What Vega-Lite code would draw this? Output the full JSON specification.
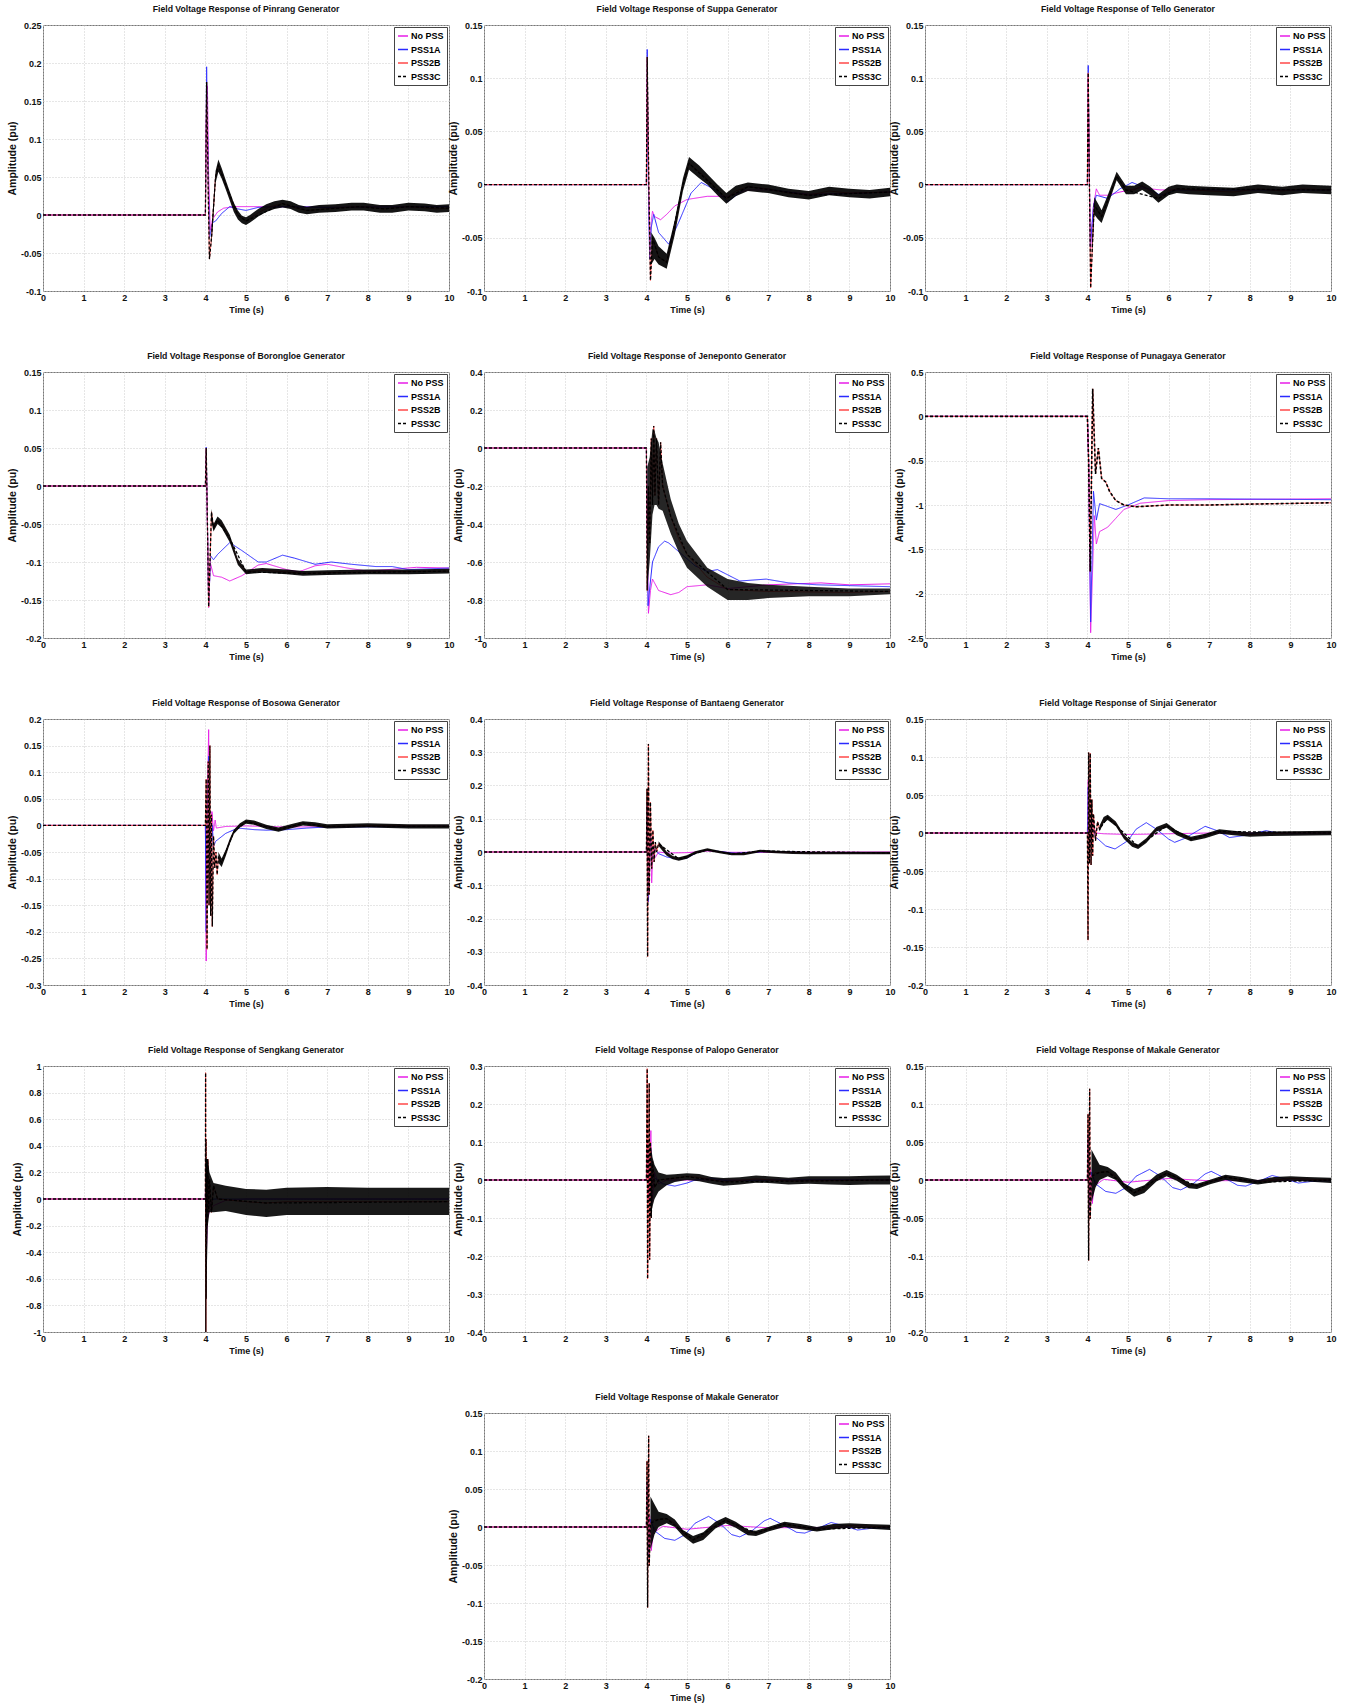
{
"$schema": "https://vega.github.io/schema/vega-lite/v6.json",
"background": "white",
"padding": {"left": 6, "top": 4, "right": 5, "bottom": 2},
"columns": 3,
"spacing": {"row": 81, "column": 35},
"bounds": "flush",
"resolve": {"scale": {"x": "independent", "y": "independent", "color": "independent", "strokeDash": "independent"}, "legend": {"color": "independent", "strokeDash": "independent"}},
"datasets": {
"L": [
{"p":"Pinrang","s":"No PSS","t":0,"v":0},{"p":"Pinrang","s":"No PSS","t":4,"v":0},{"p":"Pinrang","s":"No PSS","t":4.02,"v":0.12},{"p":"Pinrang","s":"No PSS","t":4.05,"v":0.17},{"p":"Pinrang","s":"No PSS","t":4.08,"v":0.05},{"p":"Pinrang","s":"No PSS","t":4.12,"v":-0.02},{"p":"Pinrang","s":"No PSS","t":4.18,"v":-0.005},{"p":"Pinrang","s":"No PSS","t":4.3,"v":0.004},{"p":"Pinrang","s":"No PSS","t":4.45,"v":0.009},{"p":"Pinrang","s":"No PSS","t":4.7,"v":0.011},{"p":"Pinrang","s":"No PSS","t":5,"v":0.011},{"p":"Pinrang","s":"No PSS","t":5.5,"v":0.011},{"p":"Pinrang","s":"No PSS","t":6,"v":0.011},{"p":"Pinrang","s":"No PSS","t":7,"v":0.01},{"p":"Pinrang","s":"No PSS","t":8,"v":0.011},{"p":"Pinrang","s":"No PSS","t":10,"v":0.011},
{"p":"Pinrang","s":"PSS1A","t":0,"v":0},{"p":"Pinrang","s":"PSS1A","t":4,"v":0},{"p":"Pinrang","s":"PSS1A","t":4.03,"v":0.195},{"p":"Pinrang","s":"PSS1A","t":4.06,"v":0.08},{"p":"Pinrang","s":"PSS1A","t":4.1,"v":-0.03},{"p":"Pinrang","s":"PSS1A","t":4.18,"v":-0.01},{"p":"Pinrang","s":"PSS1A","t":4.25,"v":-0.008},{"p":"Pinrang","s":"PSS1A","t":4.4,"v":0.002},{"p":"Pinrang","s":"PSS1A","t":4.6,"v":0.011},{"p":"Pinrang","s":"PSS1A","t":4.8,"v":0.008},{"p":"Pinrang","s":"PSS1A","t":5,"v":0.006},{"p":"Pinrang","s":"PSS1A","t":5.3,"v":0.01},{"p":"Pinrang","s":"PSS1A","t":6,"v":0.011},{"p":"Pinrang","s":"PSS1A","t":7,"v":0.01},{"p":"Pinrang","s":"PSS1A","t":10,"v":0.011},
{"p":"Pinrang","s":"PSS2B","t":0,"v":0},{"p":"Pinrang","s":"PSS2B","t":4,"v":0},{"p":"Pinrang","s":"PSS2B","t":4.03,"v":0.175},{"p":"Pinrang","s":"PSS2B","t":4.07,"v":0.03},{"p":"Pinrang","s":"PSS2B","t":4.1,"v":-0.058},{"p":"Pinrang","s":"PSS2B","t":4.15,"v":-0.03},{"p":"Pinrang","s":"PSS2B","t":4.2,"v":0.01},{"p":"Pinrang","s":"PSS2B","t":4.25,"v":0.05},{"p":"Pinrang","s":"PSS2B","t":4.32,"v":0.065},{"p":"Pinrang","s":"PSS2B","t":4.4,"v":0.055},{"p":"Pinrang","s":"PSS2B","t":4.5,"v":0.04},{"p":"Pinrang","s":"PSS2B","t":4.6,"v":0.025},{"p":"Pinrang","s":"PSS2B","t":4.7,"v":0.01},{"p":"Pinrang","s":"PSS2B","t":4.8,"v":0},{"p":"Pinrang","s":"PSS2B","t":5,"v":-0.008},{"p":"Pinrang","s":"PSS2B","t":5.3,"v":0.003},{"p":"Pinrang","s":"PSS2B","t":5.6,"v":0.011},{"p":"Pinrang","s":"PSS2B","t":5.9,"v":0.015},{"p":"Pinrang","s":"PSS2B","t":6.3,"v":0.008},{"p":"Pinrang","s":"PSS2B","t":6.5,"v":0.006},{"p":"Pinrang","s":"PSS2B","t":7.2,"v":0.009},{"p":"Pinrang","s":"PSS2B","t":7.8,"v":0.011},{"p":"Pinrang","s":"PSS2B","t":8.4,"v":0.008},{"p":"Pinrang","s":"PSS2B","t":9,"v":0.011},{"p":"Pinrang","s":"PSS2B","t":9.7,"v":0.008},{"p":"Pinrang","s":"PSS2B","t":10,"v":0.009},
{"p":"Pinrang","s":"PSS3C","t":0,"v":0},{"p":"Pinrang","s":"PSS3C","t":4,"v":0},{"p":"Pinrang","s":"PSS3C","t":4.03,"v":0.175},{"p":"Pinrang","s":"PSS3C","t":4.07,"v":0.03},{"p":"Pinrang","s":"PSS3C","t":4.1,"v":-0.058},{"p":"Pinrang","s":"PSS3C","t":4.15,"v":-0.03},{"p":"Pinrang","s":"PSS3C","t":4.2,"v":0.01},{"p":"Pinrang","s":"PSS3C","t":4.25,"v":0.05},{"p":"Pinrang","s":"PSS3C","t":4.32,"v":0.065},{"p":"Pinrang","s":"PSS3C","t":4.5,"v":0.04},{"p":"Pinrang","s":"PSS3C","t":4.8,"v":0},{"p":"Pinrang","s":"PSS3C","t":5,"v":-0.008},{"p":"Pinrang","s":"PSS3C","t":5.9,"v":0.015},{"p":"Pinrang","s":"PSS3C","t":6.5,"v":0.006},{"p":"Pinrang","s":"PSS3C","t":7.8,"v":0.011},{"p":"Pinrang","s":"PSS3C","t":8.4,"v":0.008},{"p":"Pinrang","s":"PSS3C","t":9,"v":0.011},{"p":"Pinrang","s":"PSS3C","t":10,"v":0.009},

{"p":"Suppa","s":"No PSS","t":0,"v":0},{"p":"Suppa","s":"No PSS","t":4,"v":0},{"p":"Suppa","s":"No PSS","t":4.02,"v":0.1},{"p":"Suppa","s":"No PSS","t":4.05,"v":0},{"p":"Suppa","s":"No PSS","t":4.08,"v":-0.06},{"p":"Suppa","s":"No PSS","t":4.12,"v":-0.035},{"p":"Suppa","s":"No PSS","t":4.15,"v":-0.025},{"p":"Suppa","s":"No PSS","t":4.2,"v":-0.03},{"p":"Suppa","s":"No PSS","t":4.35,"v":-0.033},{"p":"Suppa","s":"No PSS","t":4.5,"v":-0.028},{"p":"Suppa","s":"No PSS","t":4.7,"v":-0.02},{"p":"Suppa","s":"No PSS","t":5,"v":-0.014},{"p":"Suppa","s":"No PSS","t":5.5,"v":-0.011},{"p":"Suppa","s":"No PSS","t":6,"v":-0.011},{"p":"Suppa","s":"No PSS","t":6.5,"v":-0.005},{"p":"Suppa","s":"No PSS","t":7,"v":-0.005},{"p":"Suppa","s":"No PSS","t":8,"v":-0.009},{"p":"Suppa","s":"No PSS","t":10,"v":-0.007},
{"p":"Suppa","s":"PSS1A","t":0,"v":0},{"p":"Suppa","s":"PSS1A","t":4,"v":0},{"p":"Suppa","s":"PSS1A","t":4.02,"v":0.127},{"p":"Suppa","s":"PSS1A","t":4.05,"v":0},{"p":"Suppa","s":"PSS1A","t":4.08,"v":-0.07},{"p":"Suppa","s":"PSS1A","t":4.12,"v":-0.04},{"p":"Suppa","s":"PSS1A","t":4.18,"v":-0.028},{"p":"Suppa","s":"PSS1A","t":4.3,"v":-0.045},{"p":"Suppa","s":"PSS1A","t":4.55,"v":-0.056},{"p":"Suppa","s":"PSS1A","t":4.8,"v":-0.035},{"p":"Suppa","s":"PSS1A","t":5.1,"v":-0.008},{"p":"Suppa","s":"PSS1A","t":5.35,"v":0.002},{"p":"Suppa","s":"PSS1A","t":5.7,"v":-0.005},{"p":"Suppa","s":"PSS1A","t":6,"v":-0.016},{"p":"Suppa","s":"PSS1A","t":6.5,"v":-0.002},{"p":"Suppa","s":"PSS1A","t":7,"v":-0.004},{"p":"Suppa","s":"PSS1A","t":8,"v":-0.01},{"p":"Suppa","s":"PSS1A","t":10,"v":-0.007},
{"p":"Suppa","s":"PSS2B","t":0,"v":0},{"p":"Suppa","s":"PSS2B","t":4,"v":0},{"p":"Suppa","s":"PSS2B","t":4.02,"v":0.12},{"p":"Suppa","s":"PSS2B","t":4.06,"v":0},{"p":"Suppa","s":"PSS2B","t":4.1,"v":-0.09},{"p":"Suppa","s":"PSS2B","t":4.15,"v":-0.05},{"p":"Suppa","s":"PSS2B","t":4.3,"v":-0.068},{"p":"Suppa","s":"PSS2B","t":4.5,"v":-0.073},{"p":"Suppa","s":"PSS2B","t":4.7,"v":-0.04},{"p":"Suppa","s":"PSS2B","t":4.9,"v":0},{"p":"Suppa","s":"PSS2B","t":5.05,"v":0.02},{"p":"Suppa","s":"PSS2B","t":5.3,"v":0.012},{"p":"Suppa","s":"PSS2B","t":5.5,"v":0.005},{"p":"Suppa","s":"PSS2B","t":5.75,"v":-0.005},{"p":"Suppa","s":"PSS2B","t":5.97,"v":-0.013},{"p":"Suppa","s":"PSS2B","t":6.2,"v":-0.006},{"p":"Suppa","s":"PSS2B","t":6.5,"v":-0.002},{"p":"Suppa","s":"PSS2B","t":7,"v":-0.004},{"p":"Suppa","s":"PSS2B","t":7.5,"v":-0.008},{"p":"Suppa","s":"PSS2B","t":8,"v":-0.01},{"p":"Suppa","s":"PSS2B","t":8.5,"v":-0.006},{"p":"Suppa","s":"PSS2B","t":9,"v":-0.008},{"p":"Suppa","s":"PSS2B","t":10,"v":-0.007},
{"p":"Suppa","s":"PSS3C","t":0,"v":0},{"p":"Suppa","s":"PSS3C","t":4,"v":0},{"p":"Suppa","s":"PSS3C","t":4.02,"v":0.12},{"p":"Suppa","s":"PSS3C","t":4.06,"v":0},{"p":"Suppa","s":"PSS3C","t":4.1,"v":-0.09},{"p":"Suppa","s":"PSS3C","t":4.15,"v":-0.05},{"p":"Suppa","s":"PSS3C","t":4.3,"v":-0.068},{"p":"Suppa","s":"PSS3C","t":4.5,"v":-0.073},{"p":"Suppa","s":"PSS3C","t":4.9,"v":0},{"p":"Suppa","s":"PSS3C","t":5.05,"v":0.02},{"p":"Suppa","s":"PSS3C","t":5.97,"v":-0.013},{"p":"Suppa","s":"PSS3C","t":6.5,"v":-0.002},{"p":"Suppa","s":"PSS3C","t":8,"v":-0.01},{"p":"Suppa","s":"PSS3C","t":10,"v":-0.007},

{"p":"Tello","s":"No PSS","t":0,"v":0},{"p":"Tello","s":"No PSS","t":4,"v":0},{"p":"Tello","s":"No PSS","t":4.02,"v":0.1},{"p":"Tello","s":"No PSS","t":4.05,"v":0},{"p":"Tello","s":"No PSS","t":4.08,"v":-0.06},{"p":"Tello","s":"No PSS","t":4.15,"v":-0.02},{"p":"Tello","s":"No PSS","t":4.22,"v":-0.004},{"p":"Tello","s":"No PSS","t":4.3,"v":-0.01},{"p":"Tello","s":"No PSS","t":4.5,"v":-0.01},{"p":"Tello","s":"No PSS","t":4.8,"v":-0.007},{"p":"Tello","s":"No PSS","t":5.3,"v":-0.003},{"p":"Tello","s":"No PSS","t":5.8,"v":-0.005},{"p":"Tello","s":"No PSS","t":10,"v":-0.005},
{"p":"Tello","s":"PSS1A","t":0,"v":0},{"p":"Tello","s":"PSS1A","t":4,"v":0},{"p":"Tello","s":"PSS1A","t":4.02,"v":0.112},{"p":"Tello","s":"PSS1A","t":4.05,"v":0},{"p":"Tello","s":"PSS1A","t":4.07,"v":-0.058},{"p":"Tello","s":"PSS1A","t":4.15,"v":-0.02},{"p":"Tello","s":"PSS1A","t":4.22,"v":-0.01},{"p":"Tello","s":"PSS1A","t":4.5,"v":-0.013},{"p":"Tello","s":"PSS1A","t":4.8,"v":-0.004},{"p":"Tello","s":"PSS1A","t":5.1,"v":0.002},{"p":"Tello","s":"PSS1A","t":5.5,"v":-0.004},{"p":"Tello","s":"PSS1A","t":5.8,"v":-0.01},{"p":"Tello","s":"PSS1A","t":6.2,"v":-0.005},{"p":"Tello","s":"PSS1A","t":10,"v":-0.005},
{"p":"Tello","s":"PSS2B","t":0,"v":0},{"p":"Tello","s":"PSS2B","t":4,"v":0},{"p":"Tello","s":"PSS2B","t":4.02,"v":0.105},{"p":"Tello","s":"PSS2B","t":4.05,"v":0},{"p":"Tello","s":"PSS2B","t":4.08,"v":-0.097},{"p":"Tello","s":"PSS2B","t":4.12,"v":-0.06},{"p":"Tello","s":"PSS2B","t":4.17,"v":-0.019},{"p":"Tello","s":"PSS2B","t":4.25,"v":-0.025},{"p":"Tello","s":"PSS2B","t":4.35,"v":-0.03},{"p":"Tello","s":"PSS2B","t":4.5,"v":-0.015},{"p":"Tello","s":"PSS2B","t":4.72,"v":0.008},{"p":"Tello","s":"PSS2B","t":4.95,"v":-0.005},{"p":"Tello","s":"PSS2B","t":5.15,"v":-0.005},{"p":"Tello","s":"PSS2B","t":5.35,"v":-0.001},{"p":"Tello","s":"PSS2B","t":5.55,"v":-0.006},{"p":"Tello","s":"PSS2B","t":5.75,"v":-0.013},{"p":"Tello","s":"PSS2B","t":6,"v":-0.006},{"p":"Tello","s":"PSS2B","t":6.2,"v":-0.004},{"p":"Tello","s":"PSS2B","t":7,"v":-0.006},{"p":"Tello","s":"PSS2B","t":7.6,"v":-0.007},{"p":"Tello","s":"PSS2B","t":8.2,"v":-0.004},{"p":"Tello","s":"PSS2B","t":8.8,"v":-0.006},{"p":"Tello","s":"PSS2B","t":9.3,"v":-0.004},{"p":"Tello","s":"PSS2B","t":10,"v":-0.005},
{"p":"Tello","s":"PSS3C","t":0,"v":0},{"p":"Tello","s":"PSS3C","t":4,"v":0},{"p":"Tello","s":"PSS3C","t":4.02,"v":0.105},{"p":"Tello","s":"PSS3C","t":4.05,"v":0},{"p":"Tello","s":"PSS3C","t":4.08,"v":-0.097},{"p":"Tello","s":"PSS3C","t":4.12,"v":-0.06},{"p":"Tello","s":"PSS3C","t":4.17,"v":-0.019},{"p":"Tello","s":"PSS3C","t":4.35,"v":-0.03},{"p":"Tello","s":"PSS3C","t":4.72,"v":0.008},{"p":"Tello","s":"PSS3C","t":4.95,"v":-0.005},{"p":"Tello","s":"PSS3C","t":5.75,"v":-0.013},{"p":"Tello","s":"PSS3C","t":6.2,"v":-0.004},{"p":"Tello","s":"PSS3C","t":10,"v":-0.005},

{"p":"Borongloe","s":"No PSS","t":0,"v":0},{"p":"Borongloe","s":"No PSS","t":4,"v":0},{"p":"Borongloe","s":"No PSS","t":4.02,"v":0.04},{"p":"Borongloe","s":"No PSS","t":4.05,"v":-0.05},{"p":"Borongloe","s":"No PSS","t":4.08,"v":-0.16},{"p":"Borongloe","s":"No PSS","t":4.12,"v":-0.101},{"p":"Borongloe","s":"No PSS","t":4.2,"v":-0.118},{"p":"Borongloe","s":"No PSS","t":4.4,"v":-0.12},{"p":"Borongloe","s":"No PSS","t":4.6,"v":-0.125},{"p":"Borongloe","s":"No PSS","t":4.9,"v":-0.118},{"p":"Borongloe","s":"No PSS","t":5.3,"v":-0.104},{"p":"Borongloe","s":"No PSS","t":5.5,"v":-0.102},{"p":"Borongloe","s":"No PSS","t":6,"v":-0.11},{"p":"Borongloe","s":"No PSS","t":6.3,"v":-0.113},{"p":"Borongloe","s":"No PSS","t":6.7,"v":-0.105},{"p":"Borongloe","s":"No PSS","t":7,"v":-0.103},{"p":"Borongloe","s":"No PSS","t":7.5,"v":-0.108},{"p":"Borongloe","s":"No PSS","t":8,"v":-0.112},{"p":"Borongloe","s":"No PSS","t":8.5,"v":-0.11},{"p":"Borongloe","s":"No PSS","t":9.2,"v":-0.107},{"p":"Borongloe","s":"No PSS","t":10,"v":-0.108},
{"p":"Borongloe","s":"PSS1A","t":0,"v":0},{"p":"Borongloe","s":"PSS1A","t":4,"v":0},{"p":"Borongloe","s":"PSS1A","t":4.02,"v":0.051},{"p":"Borongloe","s":"PSS1A","t":4.05,"v":-0.05},{"p":"Borongloe","s":"PSS1A","t":4.08,"v":-0.155},{"p":"Borongloe","s":"PSS1A","t":4.13,"v":-0.092},{"p":"Borongloe","s":"PSS1A","t":4.2,"v":-0.097},{"p":"Borongloe","s":"PSS1A","t":4.3,"v":-0.09},{"p":"Borongloe","s":"PSS1A","t":4.6,"v":-0.0745},{"p":"Borongloe","s":"PSS1A","t":4.9,"v":-0.085},{"p":"Borongloe","s":"PSS1A","t":5.3,"v":-0.1},{"p":"Borongloe","s":"PSS1A","t":5.5,"v":-0.1},{"p":"Borongloe","s":"PSS1A","t":5.9,"v":-0.091},{"p":"Borongloe","s":"PSS1A","t":6.2,"v":-0.095},{"p":"Borongloe","s":"PSS1A","t":6.7,"v":-0.103},{"p":"Borongloe","s":"PSS1A","t":7.1,"v":-0.1},{"p":"Borongloe","s":"PSS1A","t":7.6,"v":-0.103},{"p":"Borongloe","s":"PSS1A","t":8.2,"v":-0.106},{"p":"Borongloe","s":"PSS1A","t":8.6,"v":-0.106},{"p":"Borongloe","s":"PSS1A","t":9,"v":-0.11},{"p":"Borongloe","s":"PSS1A","t":10,"v":-0.108},
{"p":"Borongloe","s":"PSS2B","t":0,"v":0},{"p":"Borongloe","s":"PSS2B","t":4,"v":0},{"p":"Borongloe","s":"PSS2B","t":4.02,"v":0.05},{"p":"Borongloe","s":"PSS2B","t":4.05,"v":-0.05},{"p":"Borongloe","s":"PSS2B","t":4.08,"v":-0.159},{"p":"Borongloe","s":"PSS2B","t":4.15,"v":-0.034},{"p":"Borongloe","s":"PSS2B","t":4.2,"v":-0.055},{"p":"Borongloe","s":"PSS2B","t":4.3,"v":-0.045},{"p":"Borongloe","s":"PSS2B","t":4.4,"v":-0.05},{"p":"Borongloe","s":"PSS2B","t":4.6,"v":-0.069},{"p":"Borongloe","s":"PSS2B","t":4.8,"v":-0.1},{"p":"Borongloe","s":"PSS2B","t":5,"v":-0.113},{"p":"Borongloe","s":"PSS2B","t":5.4,"v":-0.111},{"p":"Borongloe","s":"PSS2B","t":6,"v":-0.113},{"p":"Borongloe","s":"PSS2B","t":6.4,"v":-0.115},{"p":"Borongloe","s":"PSS2B","t":7,"v":-0.114},{"p":"Borongloe","s":"PSS2B","t":8,"v":-0.113},{"p":"Borongloe","s":"PSS2B","t":10,"v":-0.112},
{"p":"Borongloe","s":"PSS3C","t":0,"v":0},{"p":"Borongloe","s":"PSS3C","t":4,"v":0},{"p":"Borongloe","s":"PSS3C","t":4.02,"v":0.05},{"p":"Borongloe","s":"PSS3C","t":4.05,"v":-0.05},{"p":"Borongloe","s":"PSS3C","t":4.08,"v":-0.159},{"p":"Borongloe","s":"PSS3C","t":4.15,"v":-0.034},{"p":"Borongloe","s":"PSS3C","t":4.2,"v":-0.055},{"p":"Borongloe","s":"PSS3C","t":4.3,"v":-0.045},{"p":"Borongloe","s":"PSS3C","t":4.6,"v":-0.069},{"p":"Borongloe","s":"PSS3C","t":5,"v":-0.113},{"p":"Borongloe","s":"PSS3C","t":6.4,"v":-0.115},{"p":"Borongloe","s":"PSS3C","t":10,"v":-0.112},

{"p":"Jeneponto","s":"No PSS","t":0,"v":0},{"p":"Jeneponto","s":"No PSS","t":4,"v":0},{"p":"Jeneponto","s":"No PSS","t":4.02,"v":-0.4},{"p":"Jeneponto","s":"No PSS","t":4.05,"v":-0.87},{"p":"Jeneponto","s":"No PSS","t":4.1,"v":-0.75},{"p":"Jeneponto","s":"No PSS","t":4.15,"v":-0.69},{"p":"Jeneponto","s":"No PSS","t":4.3,"v":-0.75},{"p":"Jeneponto","s":"No PSS","t":4.6,"v":-0.772},{"p":"Jeneponto","s":"No PSS","t":4.8,"v":-0.76},{"p":"Jeneponto","s":"No PSS","t":5,"v":-0.73},{"p":"Jeneponto","s":"No PSS","t":5.5,"v":-0.72},{"p":"Jeneponto","s":"No PSS","t":6,"v":-0.74},{"p":"Jeneponto","s":"No PSS","t":7,"v":-0.72},{"p":"Jeneponto","s":"No PSS","t":8.3,"v":-0.71},{"p":"Jeneponto","s":"No PSS","t":9,"v":-0.72},{"p":"Jeneponto","s":"No PSS","t":10,"v":-0.715},
{"p":"Jeneponto","s":"PSS1A","t":0,"v":0},{"p":"Jeneponto","s":"PSS1A","t":4,"v":0},{"p":"Jeneponto","s":"PSS1A","t":4.02,"v":-0.5},{"p":"Jeneponto","s":"PSS1A","t":4.04,"v":-0.83},{"p":"Jeneponto","s":"PSS1A","t":4.1,"v":-0.7},{"p":"Jeneponto","s":"PSS1A","t":4.15,"v":-0.6},{"p":"Jeneponto","s":"PSS1A","t":4.3,"v":-0.52},{"p":"Jeneponto","s":"PSS1A","t":4.45,"v":-0.49},{"p":"Jeneponto","s":"PSS1A","t":4.55,"v":-0.5},{"p":"Jeneponto","s":"PSS1A","t":5.2,"v":-0.62},{"p":"Jeneponto","s":"PSS1A","t":5.5,"v":-0.65},{"p":"Jeneponto","s":"PSS1A","t":5.75,"v":-0.64},{"p":"Jeneponto","s":"PSS1A","t":6.3,"v":-0.7},{"p":"Jeneponto","s":"PSS1A","t":6.95,"v":-0.69},{"p":"Jeneponto","s":"PSS1A","t":7.5,"v":-0.71},{"p":"Jeneponto","s":"PSS1A","t":8.2,"v":-0.72},{"p":"Jeneponto","s":"PSS1A","t":10,"v":-0.73},
{"p":"Jeneponto","s":"PSS2B","t":0,"v":0},{"p":"Jeneponto","s":"PSS2B","t":4,"v":0},{"p":"Jeneponto","s":"PSS2B","t":4.02,"v":-0.75},{"p":"Jeneponto","s":"PSS2B","t":4.05,"v":-0.2},{"p":"Jeneponto","s":"PSS2B","t":4.08,"v":-0.5},{"p":"Jeneponto","s":"PSS2B","t":4.12,"v":0.05},{"p":"Jeneponto","s":"PSS2B","t":4.15,"v":-0.3},{"p":"Jeneponto","s":"PSS2B","t":4.18,"v":0.116},{"p":"Jeneponto","s":"PSS2B","t":4.21,"v":-0.25},{"p":"Jeneponto","s":"PSS2B","t":4.25,"v":0.05},{"p":"Jeneponto","s":"PSS2B","t":4.3,"v":-0.3},{"p":"Jeneponto","s":"PSS2B","t":4.35,"v":0.03},{"p":"Jeneponto","s":"PSS2B","t":4.4,"v":-0.2},{"p":"Jeneponto","s":"PSS2B","t":4.6,"v":-0.36},{"p":"Jeneponto","s":"PSS2B","t":4.8,"v":-0.48},{"p":"Jeneponto","s":"PSS2B","t":5,"v":-0.56},{"p":"Jeneponto","s":"PSS2B","t":5.5,"v":-0.68},{"p":"Jeneponto","s":"PSS2B","t":6,"v":-0.745},{"p":"Jeneponto","s":"PSS2B","t":7,"v":-0.755},{"p":"Jeneponto","s":"PSS2B","t":9,"v":-0.76},{"p":"Jeneponto","s":"PSS2B","t":10,"v":-0.755},
{"p":"Jeneponto","s":"PSS3C","t":0,"v":0},{"p":"Jeneponto","s":"PSS3C","t":4,"v":0},{"p":"Jeneponto","s":"PSS3C","t":4.02,"v":-0.75},{"p":"Jeneponto","s":"PSS3C","t":4.05,"v":-0.2},{"p":"Jeneponto","s":"PSS3C","t":4.08,"v":-0.5},{"p":"Jeneponto","s":"PSS3C","t":4.12,"v":0.05},{"p":"Jeneponto","s":"PSS3C","t":4.15,"v":-0.3},{"p":"Jeneponto","s":"PSS3C","t":4.18,"v":0.116},{"p":"Jeneponto","s":"PSS3C","t":4.21,"v":-0.25},{"p":"Jeneponto","s":"PSS3C","t":4.25,"v":0.05},{"p":"Jeneponto","s":"PSS3C","t":4.3,"v":-0.3},{"p":"Jeneponto","s":"PSS3C","t":4.35,"v":0.03},{"p":"Jeneponto","s":"PSS3C","t":4.4,"v":-0.2},{"p":"Jeneponto","s":"PSS3C","t":4.6,"v":-0.36},{"p":"Jeneponto","s":"PSS3C","t":5,"v":-0.56},{"p":"Jeneponto","s":"PSS3C","t":6,"v":-0.745},{"p":"Jeneponto","s":"PSS3C","t":10,"v":-0.755},

{"p":"Punagaya","s":"No PSS","t":0,"v":0},{"p":"Punagaya","s":"No PSS","t":4,"v":0},{"p":"Punagaya","s":"No PSS","t":4.03,"v":-0.5},{"p":"Punagaya","s":"No PSS","t":4.08,"v":-2.44},{"p":"Punagaya","s":"No PSS","t":4.17,"v":-1.12},{"p":"Punagaya","s":"No PSS","t":4.22,"v":-1.44},{"p":"Punagaya","s":"No PSS","t":4.3,"v":-1.3},{"p":"Punagaya","s":"No PSS","t":4.5,"v":-1.25},{"p":"Punagaya","s":"No PSS","t":4.7,"v":-1.15},{"p":"Punagaya","s":"No PSS","t":4.9,"v":-1.05},{"p":"Punagaya","s":"No PSS","t":5.3,"v":-0.98},{"p":"Punagaya","s":"No PSS","t":6,"v":-0.95},{"p":"Punagaya","s":"No PSS","t":7,"v":-0.94},{"p":"Punagaya","s":"No PSS","t":10,"v":-0.93},
{"p":"Punagaya","s":"PSS1A","t":0,"v":0},{"p":"Punagaya","s":"PSS1A","t":4,"v":0},{"p":"Punagaya","s":"PSS1A","t":4.03,"v":-0.5},{"p":"Punagaya","s":"PSS1A","t":4.08,"v":-2.32},{"p":"Punagaya","s":"PSS1A","t":4.15,"v":-0.845},{"p":"Punagaya","s":"PSS1A","t":4.22,"v":-1.17},{"p":"Punagaya","s":"PSS1A","t":4.3,"v":-0.985},{"p":"Punagaya","s":"PSS1A","t":4.4,"v":-1.0},{"p":"Punagaya","s":"PSS1A","t":4.7,"v":-1.05},{"p":"Punagaya","s":"PSS1A","t":5,"v":-1.0},{"p":"Punagaya","s":"PSS1A","t":5.4,"v":-0.92},{"p":"Punagaya","s":"PSS1A","t":6,"v":-0.93},{"p":"Punagaya","s":"PSS1A","t":7,"v":-0.93},{"p":"Punagaya","s":"PSS1A","t":10,"v":-0.94},
{"p":"Punagaya","s":"PSS2B","t":0,"v":0},{"p":"Punagaya","s":"PSS2B","t":4,"v":0},{"p":"Punagaya","s":"PSS2B","t":4.03,"v":-0.5},{"p":"Punagaya","s":"PSS2B","t":4.07,"v":-1.75},{"p":"Punagaya","s":"PSS2B","t":4.13,"v":0.31},{"p":"Punagaya","s":"PSS2B","t":4.2,"v":-0.65},{"p":"Punagaya","s":"PSS2B","t":4.27,"v":-0.357},{"p":"Punagaya","s":"PSS2B","t":4.35,"v":-0.7},{"p":"Punagaya","s":"PSS2B","t":4.45,"v":-0.74},{"p":"Punagaya","s":"PSS2B","t":4.55,"v":-0.85},{"p":"Punagaya","s":"PSS2B","t":4.7,"v":-0.95},{"p":"Punagaya","s":"PSS2B","t":4.9,"v":-1.0},{"p":"Punagaya","s":"PSS2B","t":5.2,"v":-1.02},{"p":"Punagaya","s":"PSS2B","t":6,"v":-1.0},{"p":"Punagaya","s":"PSS2B","t":7,"v":-1.0},{"p":"Punagaya","s":"PSS2B","t":8,"v":-0.99},{"p":"Punagaya","s":"PSS2B","t":10,"v":-0.975},
{"p":"Punagaya","s":"PSS3C","t":0,"v":0},{"p":"Punagaya","s":"PSS3C","t":4,"v":0},{"p":"Punagaya","s":"PSS3C","t":4.03,"v":-0.5},{"p":"Punagaya","s":"PSS3C","t":4.07,"v":-1.75},{"p":"Punagaya","s":"PSS3C","t":4.13,"v":0.31},{"p":"Punagaya","s":"PSS3C","t":4.2,"v":-0.65},{"p":"Punagaya","s":"PSS3C","t":4.27,"v":-0.357},{"p":"Punagaya","s":"PSS3C","t":4.35,"v":-0.7},{"p":"Punagaya","s":"PSS3C","t":4.45,"v":-0.74},{"p":"Punagaya","s":"PSS3C","t":4.55,"v":-0.85},{"p":"Punagaya","s":"PSS3C","t":4.7,"v":-0.95},{"p":"Punagaya","s":"PSS3C","t":4.9,"v":-1.0},{"p":"Punagaya","s":"PSS3C","t":5.2,"v":-1.02},{"p":"Punagaya","s":"PSS3C","t":6,"v":-1.0},{"p":"Punagaya","s":"PSS3C","t":7,"v":-1.0},{"p":"Punagaya","s":"PSS3C","t":8,"v":-0.99},{"p":"Punagaya","s":"PSS3C","t":10,"v":-0.975},

{"p":"Bosowa","s":"No PSS","t":0,"v":0},{"p":"Bosowa","s":"No PSS","t":4,"v":0},{"p":"Bosowa","s":"No PSS","t":4.02,"v":-0.255},{"p":"Bosowa","s":"No PSS","t":4.05,"v":0.05},{"p":"Bosowa","s":"No PSS","t":4.08,"v":0.18},{"p":"Bosowa","s":"No PSS","t":4.12,"v":-0.1},{"p":"Bosowa","s":"No PSS","t":4.16,"v":0.026},{"p":"Bosowa","s":"No PSS","t":4.2,"v":-0.01},{"p":"Bosowa","s":"No PSS","t":4.24,"v":0.01},{"p":"Bosowa","s":"No PSS","t":4.27,"v":-0.005},{"p":"Bosowa","s":"No PSS","t":4.5,"v":-0.002},{"p":"Bosowa","s":"No PSS","t":5,"v":-0.001},{"p":"Bosowa","s":"No PSS","t":6,"v":-0.003},{"p":"Bosowa","s":"No PSS","t":10,"v":-0.001},
{"p":"Bosowa","s":"PSS1A","t":0,"v":0},{"p":"Bosowa","s":"PSS1A","t":4,"v":0},{"p":"Bosowa","s":"PSS1A","t":4.02,"v":-0.2},{"p":"Bosowa","s":"PSS1A","t":4.05,"v":0.05},{"p":"Bosowa","s":"PSS1A","t":4.08,"v":0.13},{"p":"Bosowa","s":"PSS1A","t":4.12,"v":-0.12},{"p":"Bosowa","s":"PSS1A","t":4.17,"v":0},{"p":"Bosowa","s":"PSS1A","t":4.2,"v":-0.04},{"p":"Bosowa","s":"PSS1A","t":4.25,"v":-0.03},{"p":"Bosowa","s":"PSS1A","t":4.3,"v":-0.027},{"p":"Bosowa","s":"PSS1A","t":4.5,"v":-0.015},{"p":"Bosowa","s":"PSS1A","t":4.8,"v":-0.005},{"p":"Bosowa","s":"PSS1A","t":5.2,"v":-0.008},{"p":"Bosowa","s":"PSS1A","t":5.5,"v":-0.009},{"p":"Bosowa","s":"PSS1A","t":6,"v":-0.008},{"p":"Bosowa","s":"PSS1A","t":6.5,"v":-0.005},{"p":"Bosowa","s":"PSS1A","t":7,"v":-0.003},{"p":"Bosowa","s":"PSS1A","t":10,"v":-0.002},
{"p":"Bosowa","s":"PSS2B","t":0,"v":0},{"p":"Bosowa","s":"PSS2B","t":4,"v":0},{"p":"Bosowa","s":"PSS2B","t":4.02,"v":0.087},{"p":"Bosowa","s":"PSS2B","t":4.04,"v":-0.233},{"p":"Bosowa","s":"PSS2B","t":4.07,"v":0.12},{"p":"Bosowa","s":"PSS2B","t":4.09,"v":-0.15},{"p":"Bosowa","s":"PSS2B","t":4.11,"v":0.15},{"p":"Bosowa","s":"PSS2B","t":4.13,"v":-0.17},{"p":"Bosowa","s":"PSS2B","t":4.15,"v":0.02},{"p":"Bosowa","s":"PSS2B","t":4.17,"v":-0.19},{"p":"Bosowa","s":"PSS2B","t":4.2,"v":-0.02},{"p":"Bosowa","s":"PSS2B","t":4.23,"v":-0.08},{"p":"Bosowa","s":"PSS2B","t":4.26,"v":-0.05},{"p":"Bosowa","s":"PSS2B","t":4.29,"v":-0.0925},{"p":"Bosowa","s":"PSS2B","t":4.32,"v":-0.06},{"p":"Bosowa","s":"PSS2B","t":4.4,"v":-0.07},{"p":"Bosowa","s":"PSS2B","t":4.5,"v":-0.052},{"p":"Bosowa","s":"PSS2B","t":4.6,"v":-0.03},{"p":"Bosowa","s":"PSS2B","t":4.7,"v":-0.012},{"p":"Bosowa","s":"PSS2B","t":4.85,"v":0},{"p":"Bosowa","s":"PSS2B","t":5,"v":0.007},{"p":"Bosowa","s":"PSS2B","t":5.2,"v":0.005},{"p":"Bosowa","s":"PSS2B","t":5.5,"v":-0.003},{"p":"Bosowa","s":"PSS2B","t":5.8,"v":-0.008},{"p":"Bosowa","s":"PSS2B","t":6.1,"v":-0.002},{"p":"Bosowa","s":"PSS2B","t":6.4,"v":0.004},{"p":"Bosowa","s":"PSS2B","t":6.7,"v":0.002},{"p":"Bosowa","s":"PSS2B","t":7,"v":-0.002},{"p":"Bosowa","s":"PSS2B","t":8,"v":0},{"p":"Bosowa","s":"PSS2B","t":10,"v":-0.002},
{"p":"Bosowa","s":"PSS3C","t":0,"v":0},{"p":"Bosowa","s":"PSS3C","t":4,"v":0},{"p":"Bosowa","s":"PSS3C","t":4.02,"v":0.087},{"p":"Bosowa","s":"PSS3C","t":4.04,"v":-0.233},{"p":"Bosowa","s":"PSS3C","t":4.07,"v":0.12},{"p":"Bosowa","s":"PSS3C","t":4.09,"v":-0.15},{"p":"Bosowa","s":"PSS3C","t":4.11,"v":0.15},{"p":"Bosowa","s":"PSS3C","t":4.13,"v":-0.17},{"p":"Bosowa","s":"PSS3C","t":4.15,"v":0.02},{"p":"Bosowa","s":"PSS3C","t":4.17,"v":-0.19},{"p":"Bosowa","s":"PSS3C","t":4.2,"v":-0.02},{"p":"Bosowa","s":"PSS3C","t":4.23,"v":-0.08},{"p":"Bosowa","s":"PSS3C","t":4.26,"v":-0.05},{"p":"Bosowa","s":"PSS3C","t":4.29,"v":-0.0925},{"p":"Bosowa","s":"PSS3C","t":4.32,"v":-0.06},{"p":"Bosowa","s":"PSS3C","t":4.4,"v":-0.07},{"p":"Bosowa","s":"PSS3C","t":4.7,"v":-0.012},{"p":"Bosowa","s":"PSS3C","t":5,"v":0.007},{"p":"Bosowa","s":"PSS3C","t":5.8,"v":-0.008},{"p":"Bosowa","s":"PSS3C","t":6.4,"v":0.004},{"p":"Bosowa","s":"PSS3C","t":7,"v":-0.002},{"p":"Bosowa","s":"PSS3C","t":10,"v":-0.002},

{"p":"Bantaeng","s":"No PSS","t":0,"v":0},{"p":"Bantaeng","s":"No PSS","t":4,"v":0},{"p":"Bantaeng","s":"No PSS","t":4.02,"v":0.1},{"p":"Bantaeng","s":"No PSS","t":4.05,"v":-0.1},{"p":"Bantaeng","s":"No PSS","t":4.1,"v":0.05},{"p":"Bantaeng","s":"No PSS","t":4.13,"v":-0.093},{"p":"Bantaeng","s":"No PSS","t":4.17,"v":0.02},{"p":"Bantaeng","s":"No PSS","t":4.2,"v":-0.02},{"p":"Bantaeng","s":"No PSS","t":4.3,"v":0},{"p":"Bantaeng","s":"No PSS","t":4.5,"v":-0.003},{"p":"Bantaeng","s":"No PSS","t":5,"v":-0.002},{"p":"Bantaeng","s":"No PSS","t":5.5,"v":0.003},{"p":"Bantaeng","s":"No PSS","t":6,"v":-0.001},{"p":"Bantaeng","s":"No PSS","t":10,"v":0},
{"p":"Bantaeng","s":"PSS1A","t":0,"v":0},{"p":"Bantaeng","s":"PSS1A","t":4,"v":0},{"p":"Bantaeng","s":"PSS1A","t":4.02,"v":0.15},{"p":"Bantaeng","s":"PSS1A","t":4.05,"v":-0.15},{"p":"Bantaeng","s":"PSS1A","t":4.1,"v":0.05},{"p":"Bantaeng","s":"PSS1A","t":4.15,"v":-0.02},{"p":"Bantaeng","s":"PSS1A","t":4.2,"v":0.01},{"p":"Bantaeng","s":"PSS1A","t":4.3,"v":-0.005},{"p":"Bantaeng","s":"PSS1A","t":4.5,"v":-0.015},{"p":"Bantaeng","s":"PSS1A","t":4.8,"v":-0.022},{"p":"Bantaeng","s":"PSS1A","t":5,"v":-0.018},{"p":"Bantaeng","s":"PSS1A","t":5.3,"v":0.002},{"p":"Bantaeng","s":"PSS1A","t":5.5,"v":0.006},{"p":"Bantaeng","s":"PSS1A","t":5.9,"v":0},{"p":"Bantaeng","s":"PSS1A","t":6.2,"v":-0.004},{"p":"Bantaeng","s":"PSS1A","t":7,"v":0.002},{"p":"Bantaeng","s":"PSS1A","t":8,"v":-0.002},{"p":"Bantaeng","s":"PSS1A","t":10,"v":-0.002},
{"p":"Bantaeng","s":"PSS2B","t":0,"v":0},{"p":"Bantaeng","s":"PSS2B","t":4,"v":0},{"p":"Bantaeng","s":"PSS2B","t":4.015,"v":0.19},{"p":"Bantaeng","s":"PSS2B","t":4.03,"v":-0.315},{"p":"Bantaeng","s":"PSS2B","t":4.05,"v":0.325},{"p":"Bantaeng","s":"PSS2B","t":4.07,"v":-0.128},{"p":"Bantaeng","s":"PSS2B","t":4.1,"v":0.15},{"p":"Bantaeng","s":"PSS2B","t":4.13,"v":-0.05},{"p":"Bantaeng","s":"PSS2B","t":4.16,"v":0.065},{"p":"Bantaeng","s":"PSS2B","t":4.19,"v":-0.03},{"p":"Bantaeng","s":"PSS2B","t":4.22,"v":0.03},{"p":"Bantaeng","s":"PSS2B","t":4.25,"v":0},{"p":"Bantaeng","s":"PSS2B","t":4.3,"v":0.025},{"p":"Bantaeng","s":"PSS2B","t":4.4,"v":0.01},{"p":"Bantaeng","s":"PSS2B","t":4.5,"v":-0.005},{"p":"Bantaeng","s":"PSS2B","t":4.65,"v":-0.017},{"p":"Bantaeng","s":"PSS2B","t":4.8,"v":-0.021},{"p":"Bantaeng","s":"PSS2B","t":5,"v":-0.015},{"p":"Bantaeng","s":"PSS2B","t":5.2,"v":-0.002},{"p":"Bantaeng","s":"PSS2B","t":5.5,"v":0.007},{"p":"Bantaeng","s":"PSS2B","t":5.8,"v":0},{"p":"Bantaeng","s":"PSS2B","t":6.1,"v":-0.006},{"p":"Bantaeng","s":"PSS2B","t":6.4,"v":-0.006},{"p":"Bantaeng","s":"PSS2B","t":6.8,"v":0.003},{"p":"Bantaeng","s":"PSS2B","t":7.2,"v":0},{"p":"Bantaeng","s":"PSS2B","t":8,"v":-0.003},{"p":"Bantaeng","s":"PSS2B","t":10,"v":-0.003},
{"p":"Bantaeng","s":"PSS3C","t":0,"v":0},{"p":"Bantaeng","s":"PSS3C","t":4,"v":0},{"p":"Bantaeng","s":"PSS3C","t":4.015,"v":0.19},{"p":"Bantaeng","s":"PSS3C","t":4.03,"v":-0.315},{"p":"Bantaeng","s":"PSS3C","t":4.05,"v":0.325},{"p":"Bantaeng","s":"PSS3C","t":4.07,"v":-0.128},{"p":"Bantaeng","s":"PSS3C","t":4.1,"v":0.15},{"p":"Bantaeng","s":"PSS3C","t":4.13,"v":-0.05},{"p":"Bantaeng","s":"PSS3C","t":4.16,"v":0.065},{"p":"Bantaeng","s":"PSS3C","t":4.19,"v":-0.03},{"p":"Bantaeng","s":"PSS3C","t":4.22,"v":0.03},{"p":"Bantaeng","s":"PSS3C","t":4.25,"v":0},{"p":"Bantaeng","s":"PSS3C","t":4.3,"v":0.025},{"p":"Bantaeng","s":"PSS3C","t":4.8,"v":-0.021},{"p":"Bantaeng","s":"PSS3C","t":5.5,"v":0.007},{"p":"Bantaeng","s":"PSS3C","t":6.1,"v":-0.006},{"p":"Bantaeng","s":"PSS3C","t":6.8,"v":0.003},{"p":"Bantaeng","s":"PSS3C","t":10,"v":-0.003},

{"p":"Sinjai","s":"No PSS","t":0,"v":0},{"p":"Sinjai","s":"No PSS","t":4,"v":0},{"p":"Sinjai","s":"No PSS","t":4.02,"v":0.07},{"p":"Sinjai","s":"No PSS","t":4.05,"v":-0.02},{"p":"Sinjai","s":"No PSS","t":4.1,"v":0.02},{"p":"Sinjai","s":"No PSS","t":4.2,"v":0},{"p":"Sinjai","s":"No PSS","t":4.4,"v":-0.001},{"p":"Sinjai","s":"No PSS","t":5,"v":-0.002},{"p":"Sinjai","s":"No PSS","t":6,"v":-0.001},{"p":"Sinjai","s":"No PSS","t":7,"v":0},{"p":"Sinjai","s":"No PSS","t":10,"v":0},
{"p":"Sinjai","s":"PSS1A","t":0,"v":0},{"p":"Sinjai","s":"PSS1A","t":4,"v":0},{"p":"Sinjai","s":"PSS1A","t":4.02,"v":0.06},{"p":"Sinjai","s":"PSS1A","t":4.05,"v":-0.02},{"p":"Sinjai","s":"PSS1A","t":4.1,"v":0.01},{"p":"Sinjai","s":"PSS1A","t":4.2,"v":-0.005},{"p":"Sinjai","s":"PSS1A","t":4.45,"v":-0.017},{"p":"Sinjai","s":"PSS1A","t":4.68,"v":-0.021},{"p":"Sinjai","s":"PSS1A","t":5,"v":-0.01},{"p":"Sinjai","s":"PSS1A","t":5.2,"v":0.005},{"p":"Sinjai","s":"PSS1A","t":5.45,"v":0.0136},{"p":"Sinjai","s":"PSS1A","t":5.7,"v":0.005},{"p":"Sinjai","s":"PSS1A","t":6,"v":-0.008},{"p":"Sinjai","s":"PSS1A","t":6.15,"v":-0.0123},{"p":"Sinjai","s":"PSS1A","t":6.4,"v":-0.007},{"p":"Sinjai","s":"PSS1A","t":6.9,"v":0.0088},{"p":"Sinjai","s":"PSS1A","t":7.2,"v":0.003},{"p":"Sinjai","s":"PSS1A","t":7.5,"v":-0.006},{"p":"Sinjai","s":"PSS1A","t":7.9,"v":-0.003},{"p":"Sinjai","s":"PSS1A","t":8.4,"v":0.003},{"p":"Sinjai","s":"PSS1A","t":8.7,"v":0},{"p":"Sinjai","s":"PSS1A","t":9,"v":-0.001},{"p":"Sinjai","s":"PSS1A","t":10,"v":0},
{"p":"Sinjai","s":"PSS2B","t":0,"v":0},{"p":"Sinjai","s":"PSS2B","t":4,"v":0},{"p":"Sinjai","s":"PSS2B","t":4.015,"v":-0.141},{"p":"Sinjai","s":"PSS2B","t":4.03,"v":0.106},{"p":"Sinjai","s":"PSS2B","t":4.05,"v":-0.04},{"p":"Sinjai","s":"PSS2B","t":4.07,"v":0.105},{"p":"Sinjai","s":"PSS2B","t":4.09,"v":-0.042},{"p":"Sinjai","s":"PSS2B","t":4.11,"v":0.044},{"p":"Sinjai","s":"PSS2B","t":4.13,"v":-0.03},{"p":"Sinjai","s":"PSS2B","t":4.15,"v":0.025},{"p":"Sinjai","s":"PSS2B","t":4.2,"v":-0.01},{"p":"Sinjai","s":"PSS2B","t":4.25,"v":0.015},{"p":"Sinjai","s":"PSS2B","t":4.3,"v":0.005},{"p":"Sinjai","s":"PSS2B","t":4.4,"v":0.017},{"p":"Sinjai","s":"PSS2B","t":4.5,"v":0.0206},{"p":"Sinjai","s":"PSS2B","t":4.7,"v":0.012},{"p":"Sinjai","s":"PSS2B","t":4.9,"v":-0.005},{"p":"Sinjai","s":"PSS2B","t":5.1,"v":-0.015},{"p":"Sinjai","s":"PSS2B","t":5.25,"v":-0.018},{"p":"Sinjai","s":"PSS2B","t":5.45,"v":-0.01},{"p":"Sinjai","s":"PSS2B","t":5.7,"v":0.005},{"p":"Sinjai","s":"PSS2B","t":5.95,"v":0.0096},{"p":"Sinjai","s":"PSS2B","t":6.2,"v":0},{"p":"Sinjai","s":"PSS2B","t":6.55,"v":-0.008},{"p":"Sinjai","s":"PSS2B","t":6.9,"v":-0.004},{"p":"Sinjai","s":"PSS2B","t":7.25,"v":0.002},{"p":"Sinjai","s":"PSS2B","t":7.6,"v":0},{"p":"Sinjai","s":"PSS2B","t":8,"v":-0.002},{"p":"Sinjai","s":"PSS2B","t":9,"v":0},{"p":"Sinjai","s":"PSS2B","t":10,"v":0},
{"p":"Sinjai","s":"PSS3C","t":0,"v":0},{"p":"Sinjai","s":"PSS3C","t":4,"v":0},{"p":"Sinjai","s":"PSS3C","t":4.015,"v":-0.141},{"p":"Sinjai","s":"PSS3C","t":4.03,"v":0.106},{"p":"Sinjai","s":"PSS3C","t":4.05,"v":-0.04},{"p":"Sinjai","s":"PSS3C","t":4.07,"v":0.105},{"p":"Sinjai","s":"PSS3C","t":4.09,"v":-0.042},{"p":"Sinjai","s":"PSS3C","t":4.11,"v":0.044},{"p":"Sinjai","s":"PSS3C","t":4.13,"v":-0.03},{"p":"Sinjai","s":"PSS3C","t":4.15,"v":0.025},{"p":"Sinjai","s":"PSS3C","t":4.2,"v":-0.01},{"p":"Sinjai","s":"PSS3C","t":4.25,"v":0.015},{"p":"Sinjai","s":"PSS3C","t":4.3,"v":0.005},{"p":"Sinjai","s":"PSS3C","t":4.5,"v":0.0206},{"p":"Sinjai","s":"PSS3C","t":5.25,"v":-0.018},{"p":"Sinjai","s":"PSS3C","t":5.95,"v":0.0096},{"p":"Sinjai","s":"PSS3C","t":6.55,"v":-0.008},{"p":"Sinjai","s":"PSS3C","t":7.25,"v":0.002},{"p":"Sinjai","s":"PSS3C","t":10,"v":0},

{"p":"Sengkang","s":"No PSS","t":0,"v":0},{"p":"Sengkang","s":"No PSS","t":4,"v":0},{"p":"Sengkang","s":"No PSS","t":4.01,"v":0.3},{"p":"Sengkang","s":"No PSS","t":4.02,"v":-0.45},{"p":"Sengkang","s":"No PSS","t":4.05,"v":-0.15},{"p":"Sengkang","s":"No PSS","t":4.1,"v":-0.09},{"p":"Sengkang","s":"No PSS","t":4.2,"v":-0.05},{"p":"Sengkang","s":"No PSS","t":4.5,"v":-0.01},{"p":"Sengkang","s":"No PSS","t":5,"v":0},{"p":"Sengkang","s":"No PSS","t":10,"v":0},
{"p":"Sengkang","s":"PSS1A","t":0,"v":0},{"p":"Sengkang","s":"PSS1A","t":4,"v":0},{"p":"Sengkang","s":"PSS1A","t":4.01,"v":0.3},{"p":"Sengkang","s":"PSS1A","t":4.02,"v":-0.3},{"p":"Sengkang","s":"PSS1A","t":4.05,"v":0.05},{"p":"Sengkang","s":"PSS1A","t":4.1,"v":-0.05},{"p":"Sengkang","s":"PSS1A","t":4.2,"v":0},{"p":"Sengkang","s":"PSS1A","t":10,"v":0},
{"p":"Sengkang","s":"PSS2B","t":0,"v":0},{"p":"Sengkang","s":"PSS2B","t":4,"v":0},{"p":"Sengkang","s":"PSS2B","t":4.005,"v":0.95},{"p":"Sengkang","s":"PSS2B","t":4.01,"v":-1.0},{"p":"Sengkang","s":"PSS2B","t":4.015,"v":0.45},{"p":"Sengkang","s":"PSS2B","t":4.02,"v":-0.75},{"p":"Sengkang","s":"PSS2B","t":4.03,"v":0.3},{"p":"Sengkang","s":"PSS2B","t":4.04,"v":-0.2},{"p":"Sengkang","s":"PSS2B","t":4.06,"v":0.3},{"p":"Sengkang","s":"PSS2B","t":4.08,"v":-0.1},{"p":"Sengkang","s":"PSS2B","t":4.1,"v":0.15},{"p":"Sengkang","s":"PSS2B","t":4.15,"v":-0.1},{"p":"Sengkang","s":"PSS2B","t":4.2,"v":0.1},{"p":"Sengkang","s":"PSS2B","t":4.3,"v":0},{"p":"Sengkang","s":"PSS2B","t":5,"v":-0.02},{"p":"Sengkang","s":"PSS2B","t":5.5,"v":-0.03},{"p":"Sengkang","s":"PSS2B","t":6,"v":-0.02},{"p":"Sengkang","s":"PSS2B","t":10,"v":-0.02},
{"p":"Sengkang","s":"PSS3C","t":0,"v":0},{"p":"Sengkang","s":"PSS3C","t":4,"v":0},{"p":"Sengkang","s":"PSS3C","t":4.005,"v":0.95},{"p":"Sengkang","s":"PSS3C","t":4.01,"v":-1.0},{"p":"Sengkang","s":"PSS3C","t":4.015,"v":0.45},{"p":"Sengkang","s":"PSS3C","t":4.02,"v":-0.75},{"p":"Sengkang","s":"PSS3C","t":4.03,"v":0.3},{"p":"Sengkang","s":"PSS3C","t":4.04,"v":-0.2},{"p":"Sengkang","s":"PSS3C","t":4.06,"v":0.3},{"p":"Sengkang","s":"PSS3C","t":4.08,"v":-0.1},{"p":"Sengkang","s":"PSS3C","t":4.1,"v":0.15},{"p":"Sengkang","s":"PSS3C","t":4.15,"v":-0.1},{"p":"Sengkang","s":"PSS3C","t":4.2,"v":0.1},{"p":"Sengkang","s":"PSS3C","t":4.3,"v":0},{"p":"Sengkang","s":"PSS3C","t":5.5,"v":-0.03},{"p":"Sengkang","s":"PSS3C","t":10,"v":-0.02},

{"p":"Palopo","s":"No PSS","t":0,"v":0},{"p":"Palopo","s":"No PSS","t":4,"v":0},{"p":"Palopo","s":"No PSS","t":4.03,"v":0.1},{"p":"Palopo","s":"No PSS","t":4.06,"v":-0.05},{"p":"Palopo","s":"No PSS","t":4.11,"v":0.13},{"p":"Palopo","s":"No PSS","t":4.14,"v":-0.06},{"p":"Palopo","s":"No PSS","t":4.2,"v":0.02},{"p":"Palopo","s":"No PSS","t":4.3,"v":-0.01},{"p":"Palopo","s":"No PSS","t":4.5,"v":0},{"p":"Palopo","s":"No PSS","t":10,"v":0},
{"p":"Palopo","s":"PSS1A","t":0,"v":0},{"p":"Palopo","s":"PSS1A","t":4,"v":0},{"p":"Palopo","s":"PSS1A","t":4.03,"v":0.08},{"p":"Palopo","s":"PSS1A","t":4.07,"v":-0.05},{"p":"Palopo","s":"PSS1A","t":4.15,"v":0.01},{"p":"Palopo","s":"PSS1A","t":4.4,"v":-0.01},{"p":"Palopo","s":"PSS1A","t":4.7,"v":-0.016},{"p":"Palopo","s":"PSS1A","t":5,"v":-0.008},{"p":"Palopo","s":"PSS1A","t":5.2,"v":0},{"p":"Palopo","s":"PSS1A","t":5.6,"v":0.005},{"p":"Palopo","s":"PSS1A","t":6,"v":-0.002},{"p":"Palopo","s":"PSS1A","t":7,"v":0},{"p":"Palopo","s":"PSS1A","t":10,"v":0},
{"p":"Palopo","s":"PSS2B","t":0,"v":0},{"p":"Palopo","s":"PSS2B","t":4,"v":0},{"p":"Palopo","s":"PSS2B","t":4.02,"v":0.293},{"p":"Palopo","s":"PSS2B","t":4.03,"v":-0.26},{"p":"Palopo","s":"PSS2B","t":4.07,"v":0.255},{"p":"Palopo","s":"PSS2B","t":4.08,"v":-0.21},{"p":"Palopo","s":"PSS2B","t":4.1,"v":0.1},{"p":"Palopo","s":"PSS2B","t":4.12,"v":-0.1},{"p":"Palopo","s":"PSS2B","t":4.15,"v":0.05},{"p":"Palopo","s":"PSS2B","t":4.2,"v":-0.02},{"p":"Palopo","s":"PSS2B","t":4.3,"v":0},{"p":"Palopo","s":"PSS2B","t":4.7,"v":0.005},{"p":"Palopo","s":"PSS2B","t":5,"v":0.009},{"p":"Palopo","s":"PSS2B","t":5.3,"v":0.007},{"p":"Palopo","s":"PSS2B","t":5.9,"v":-0.005},{"p":"Palopo","s":"PSS2B","t":6.7,"v":0.003},{"p":"Palopo","s":"PSS2B","t":7.5,"v":-0.003},{"p":"Palopo","s":"PSS2B","t":10,"v":0},
{"p":"Palopo","s":"PSS3C","t":0,"v":0},{"p":"Palopo","s":"PSS3C","t":4,"v":0},{"p":"Palopo","s":"PSS3C","t":4.02,"v":0.293},{"p":"Palopo","s":"PSS3C","t":4.03,"v":-0.26},{"p":"Palopo","s":"PSS3C","t":4.07,"v":0.255},{"p":"Palopo","s":"PSS3C","t":4.08,"v":-0.21},{"p":"Palopo","s":"PSS3C","t":4.1,"v":0.1},{"p":"Palopo","s":"PSS3C","t":4.12,"v":-0.1},{"p":"Palopo","s":"PSS3C","t":4.15,"v":0.05},{"p":"Palopo","s":"PSS3C","t":4.2,"v":-0.02},{"p":"Palopo","s":"PSS3C","t":4.3,"v":0},{"p":"Palopo","s":"PSS3C","t":5,"v":0.009},{"p":"Palopo","s":"PSS3C","t":5.9,"v":-0.005},{"p":"Palopo","s":"PSS3C","t":10,"v":0},

{"p":"Makale","s":"No PSS","t":0,"v":0},{"p":"Makale","s":"No PSS","t":4,"v":0},{"p":"Makale","s":"No PSS","t":4.02,"v":0.05},{"p":"Makale","s":"No PSS","t":4.05,"v":-0.03},{"p":"Makale","s":"No PSS","t":4.08,"v":0.015},{"p":"Makale","s":"No PSS","t":4.12,"v":-0.031},{"p":"Makale","s":"No PSS","t":4.18,"v":0},{"p":"Makale","s":"No PSS","t":4.25,"v":-0.005},{"p":"Makale","s":"No PSS","t":4.4,"v":0.001},{"p":"Makale","s":"No PSS","t":5,"v":-0.003},{"p":"Makale","s":"No PSS","t":6,"v":0.002},{"p":"Makale","s":"No PSS","t":7,"v":-0.001},{"p":"Makale","s":"No PSS","t":10,"v":0},
{"p":"Makale","s":"PSS1A","t":0,"v":0},{"p":"Makale","s":"PSS1A","t":4,"v":0},{"p":"Makale","s":"PSS1A","t":4.02,"v":0.06},{"p":"Makale","s":"PSS1A","t":4.05,"v":-0.04},{"p":"Makale","s":"PSS1A","t":4.1,"v":0.01},{"p":"Makale","s":"PSS1A","t":4.2,"v":-0.005},{"p":"Makale","s":"PSS1A","t":4.45,"v":-0.015},{"p":"Makale","s":"PSS1A","t":4.7,"v":-0.0175},{"p":"Makale","s":"PSS1A","t":4.95,"v":-0.01},{"p":"Makale","s":"PSS1A","t":5.2,"v":0.005},{"p":"Makale","s":"PSS1A","t":5.53,"v":0.014},{"p":"Makale","s":"PSS1A","t":5.8,"v":0.005},{"p":"Makale","s":"PSS1A","t":6.1,"v":-0.01},{"p":"Makale","s":"PSS1A","t":6.3,"v":-0.013},{"p":"Makale","s":"PSS1A","t":6.6,"v":-0.005},{"p":"Makale","s":"PSS1A","t":6.9,"v":0.008},{"p":"Makale","s":"PSS1A","t":7.05,"v":0.0114},{"p":"Makale","s":"PSS1A","t":7.4,"v":0.002},{"p":"Makale","s":"PSS1A","t":7.7,"v":-0.007},{"p":"Makale","s":"PSS1A","t":7.9,"v":-0.008},{"p":"Makale","s":"PSS1A","t":8.3,"v":0},{"p":"Makale","s":"PSS1A","t":8.55,"v":0.006},{"p":"Makale","s":"PSS1A","t":8.9,"v":0.001},{"p":"Makale","s":"PSS1A","t":9.2,"v":-0.004},{"p":"Makale","s":"PSS1A","t":9.5,"v":-0.002},{"p":"Makale","s":"PSS1A","t":10,"v":-0.001},
{"p":"Makale","s":"PSS2B","t":0,"v":0},{"p":"Makale","s":"PSS2B","t":4,"v":0},{"p":"Makale","s":"PSS2B","t":4.015,"v":0.087},{"p":"Makale","s":"PSS2B","t":4.03,"v":-0.106},{"p":"Makale","s":"PSS2B","t":4.055,"v":0.12},{"p":"Makale","s":"PSS2B","t":4.07,"v":-0.051},{"p":"Makale","s":"PSS2B","t":4.1,"v":0.005},{"p":"Makale","s":"PSS2B","t":4.2,"v":0.01},{"p":"Makale","s":"PSS2B","t":4.3,"v":0.01},{"p":"Makale","s":"PSS2B","t":4.5,"v":0.011},{"p":"Makale","s":"PSS2B","t":4.7,"v":0.005},{"p":"Makale","s":"PSS2B","t":4.9,"v":-0.008},{"p":"Makale","s":"PSS2B","t":5.15,"v":-0.017},{"p":"Makale","s":"PSS2B","t":5.4,"v":-0.012},{"p":"Makale","s":"PSS2B","t":5.7,"v":0.002},{"p":"Makale","s":"PSS2B","t":5.95,"v":0.009},{"p":"Makale","s":"PSS2B","t":6.2,"v":0.003},{"p":"Makale","s":"PSS2B","t":6.5,"v":-0.007},{"p":"Makale","s":"PSS2B","t":6.7,"v":-0.008},{"p":"Makale","s":"PSS2B","t":7,"v":-0.003},{"p":"Makale","s":"PSS2B","t":7.4,"v":0.004},{"p":"Makale","s":"PSS2B","t":7.8,"v":0},{"p":"Makale","s":"PSS2B","t":8.2,"v":-0.003},{"p":"Makale","s":"PSS2B","t":8.6,"v":0},{"p":"Makale","s":"PSS2B","t":9,"v":0.002},{"p":"Makale","s":"PSS2B","t":10,"v":0},
{"p":"Makale","s":"PSS3C","t":0,"v":0},{"p":"Makale","s":"PSS3C","t":4,"v":0},{"p":"Makale","s":"PSS3C","t":4.015,"v":0.087},{"p":"Makale","s":"PSS3C","t":4.03,"v":-0.106},{"p":"Makale","s":"PSS3C","t":4.055,"v":0.12},{"p":"Makale","s":"PSS3C","t":4.07,"v":-0.051},{"p":"Makale","s":"PSS3C","t":4.1,"v":0.005},{"p":"Makale","s":"PSS3C","t":4.3,"v":0.01},{"p":"Makale","s":"PSS3C","t":4.5,"v":0.011},{"p":"Makale","s":"PSS3C","t":5.15,"v":-0.017},{"p":"Makale","s":"PSS3C","t":5.95,"v":0.009},{"p":"Makale","s":"PSS3C","t":6.7,"v":-0.008},{"p":"Makale","s":"PSS3C","t":7.4,"v":0.004},{"p":"Makale","s":"PSS3C","t":8.2,"v":-0.003},{"p":"Makale","s":"PSS3C","t":10,"v":0}
],
"B": [
{"p":"Pinrang","t":4.15,"v":-0.04,"v2":-0.02},{"p":"Pinrang","t":4.2,"v":0,"v2":0.02},{"p":"Pinrang","t":4.25,"v":0.042,"v2":0.058},{"p":"Pinrang","t":4.32,"v":0.057,"v2":0.073},{"p":"Pinrang","t":4.4,"v":0.048,"v2":0.062},{"p":"Pinrang","t":4.5,"v":0.034,"v2":0.046},{"p":"Pinrang","t":4.6,"v":0.019,"v2":0.031},{"p":"Pinrang","t":4.7,"v":0.004,"v2":0.016},{"p":"Pinrang","t":4.8,"v":-0.006,"v2":0.006},{"p":"Pinrang","t":4.9,"v":-0.011,"v2":-0.001},{"p":"Pinrang","t":5,"v":-0.013,"v2":-0.003},{"p":"Pinrang","t":5.1,"v":-0.01,"v2":0},{"p":"Pinrang","t":5.3,"v":-0.002,"v2":0.008},{"p":"Pinrang","t":5.5,"v":0.004,"v2":0.014},{"p":"Pinrang","t":5.7,"v":0.008,"v2":0.018},{"p":"Pinrang","t":5.9,"v":0.01,"v2":0.02},{"p":"Pinrang","t":6.1,"v":0.008,"v2":0.018},{"p":"Pinrang","t":6.3,"v":0.003,"v2":0.013},{"p":"Pinrang","t":6.5,"v":0.001,"v2":0.011},{"p":"Pinrang","t":6.8,"v":0.003,"v2":0.013},{"p":"Pinrang","t":7.2,"v":0.004,"v2":0.014},{"p":"Pinrang","t":7.6,"v":0.006,"v2":0.016},{"p":"Pinrang","t":7.9,"v":0.006,"v2":0.016},{"p":"Pinrang","t":8.3,"v":0.003,"v2":0.013},{"p":"Pinrang","t":8.6,"v":0.003,"v2":0.013},{"p":"Pinrang","t":9,"v":0.006,"v2":0.016},{"p":"Pinrang","t":9.4,"v":0.005,"v2":0.015},{"p":"Pinrang","t":9.7,"v":0.003,"v2":0.013},{"p":"Pinrang","t":10,"v":0.004,"v2":0.014},
{"p":"Suppa","t":4.12,"v":-0.075,"v2":-0.045},{"p":"Suppa","t":4.2,"v":-0.07,"v2":-0.05},{"p":"Suppa","t":4.3,"v":-0.075,"v2":-0.058},{"p":"Suppa","t":4.5,"v":-0.079,"v2":-0.065},{"p":"Suppa","t":4.7,"v":-0.047,"v2":-0.033},{"p":"Suppa","t":4.9,"v":-0.006,"v2":0.006},{"p":"Suppa","t":5.05,"v":0.014,"v2":0.026},{"p":"Suppa","t":5.3,"v":0.006,"v2":0.018},{"p":"Suppa","t":5.5,"v":0,"v2":0.01},{"p":"Suppa","t":5.75,"v":-0.01,"v2":0},{"p":"Suppa","t":5.97,"v":-0.018,"v2":-0.008},{"p":"Suppa","t":6.2,"v":-0.011,"v2":-0.001},{"p":"Suppa","t":6.5,"v":-0.006,"v2":0.002},{"p":"Suppa","t":7,"v":-0.008,"v2":0},{"p":"Suppa","t":7.5,"v":-0.012,"v2":-0.004},{"p":"Suppa","t":8,"v":-0.014,"v2":-0.006},{"p":"Suppa","t":8.5,"v":-0.01,"v2":-0.002},{"p":"Suppa","t":9,"v":-0.012,"v2":-0.004},{"p":"Suppa","t":9.5,"v":-0.013,"v2":-0.005},{"p":"Suppa","t":10,"v":-0.011,"v2":-0.003},
{"p":"Tello","t":4.12,"v":-0.065,"v2":-0.05},{"p":"Tello","t":4.17,"v":-0.028,"v2":-0.012},{"p":"Tello","t":4.25,"v":-0.032,"v2":-0.017},{"p":"Tello","t":4.35,"v":-0.036,"v2":-0.024},{"p":"Tello","t":4.5,"v":-0.02,"v2":-0.01},{"p":"Tello","t":4.72,"v":0.004,"v2":0.012},{"p":"Tello","t":4.95,"v":-0.009,"v2":-0.001},{"p":"Tello","t":5.15,"v":-0.009,"v2":-0.001},{"p":"Tello","t":5.35,"v":-0.005,"v2":0.003},{"p":"Tello","t":5.55,"v":-0.01,"v2":-0.002},{"p":"Tello","t":5.75,"v":-0.017,"v2":-0.009},{"p":"Tello","t":6,"v":-0.01,"v2":-0.002},{"p":"Tello","t":6.2,"v":-0.008,"v2":0},{"p":"Tello","t":6.5,"v":-0.009,"v2":-0.001},{"p":"Tello","t":7,"v":-0.01,"v2":-0.002},{"p":"Tello","t":7.6,"v":-0.011,"v2":-0.003},{"p":"Tello","t":8.2,"v":-0.008,"v2":0},{"p":"Tello","t":8.8,"v":-0.01,"v2":-0.002},{"p":"Tello","t":9.3,"v":-0.008,"v2":0},{"p":"Tello","t":10,"v":-0.009,"v2":-0.001},
{"p":"Borongloe","t":4.14,"v":-0.045,"v2":-0.03},{"p":"Borongloe","t":4.2,"v":-0.06,"v2":-0.05},{"p":"Borongloe","t":4.3,"v":-0.05,"v2":-0.04},{"p":"Borongloe","t":4.4,"v":-0.055,"v2":-0.045},{"p":"Borongloe","t":4.6,"v":-0.074,"v2":-0.064},{"p":"Borongloe","t":4.8,"v":-0.104,"v2":-0.096},{"p":"Borongloe","t":5,"v":-0.116,"v2":-0.11},{"p":"Borongloe","t":5.4,"v":-0.114,"v2":-0.108},{"p":"Borongloe","t":6,"v":-0.116,"v2":-0.11},{"p":"Borongloe","t":6.4,"v":-0.118,"v2":-0.112},{"p":"Borongloe","t":7,"v":-0.117,"v2":-0.111},{"p":"Borongloe","t":8,"v":-0.116,"v2":-0.11},{"p":"Borongloe","t":9,"v":-0.116,"v2":-0.11},{"p":"Borongloe","t":10,"v":-0.115,"v2":-0.109},
{"p":"Jeneponto","t":4.02,"v":-0.75,"v2":-0.1},{"p":"Jeneponto","t":4.08,"v":-0.6,"v2":-0.05},{"p":"Jeneponto","t":4.15,"v":-0.35,"v2":0.1},{"p":"Jeneponto","t":4.2,"v":-0.3,"v2":0.09},{"p":"Jeneponto","t":4.25,"v":-0.3,"v2":0.05},{"p":"Jeneponto","t":4.3,"v":-0.32,"v2":0.03},{"p":"Jeneponto","t":4.4,"v":-0.33,"v2":-0.08},{"p":"Jeneponto","t":4.6,"v":-0.45,"v2":-0.27},{"p":"Jeneponto","t":4.8,"v":-0.55,"v2":-0.4},{"p":"Jeneponto","t":5,"v":-0.63,"v2":-0.49},{"p":"Jeneponto","t":5.5,"v":-0.73,"v2":-0.63},{"p":"Jeneponto","t":6,"v":-0.8,"v2":-0.69},{"p":"Jeneponto","t":6.5,"v":-0.8,"v2":-0.71},{"p":"Jeneponto","t":7,"v":-0.79,"v2":-0.72},{"p":"Jeneponto","t":8,"v":-0.78,"v2":-0.73},{"p":"Jeneponto","t":9,"v":-0.78,"v2":-0.74},{"p":"Jeneponto","t":10,"v":-0.77,"v2":-0.74},
{"p":"Bosowa","t":4.32,"v":-0.07,"v2":-0.05},{"p":"Bosowa","t":4.4,"v":-0.078,"v2":-0.062},{"p":"Bosowa","t":4.5,"v":-0.058,"v2":-0.046},{"p":"Bosowa","t":4.6,"v":-0.035,"v2":-0.025},{"p":"Bosowa","t":4.7,"v":-0.016,"v2":-0.008},{"p":"Bosowa","t":4.85,"v":-0.004,"v2":0.004},{"p":"Bosowa","t":5,"v":0.003,"v2":0.011},{"p":"Bosowa","t":5.2,"v":0.001,"v2":0.009},{"p":"Bosowa","t":5.5,"v":-0.007,"v2":0.001},{"p":"Bosowa","t":5.8,"v":-0.012,"v2":-0.004},{"p":"Bosowa","t":6.1,"v":-0.006,"v2":0.002},{"p":"Bosowa","t":6.4,"v":0,"v2":0.008},{"p":"Bosowa","t":6.7,"v":-0.002,"v2":0.006},{"p":"Bosowa","t":7,"v":-0.006,"v2":0.002},{"p":"Bosowa","t":8,"v":-0.004,"v2":0.004},{"p":"Bosowa","t":9,"v":-0.006,"v2":0.002},{"p":"Bosowa","t":10,"v":-0.006,"v2":0.002},
{"p":"Bantaeng","t":4.3,"v":0.018,"v2":0.032},{"p":"Bantaeng","t":4.4,"v":0.003,"v2":0.017},{"p":"Bantaeng","t":4.5,"v":-0.011,"v2":0.001},{"p":"Bantaeng","t":4.65,"v":-0.022,"v2":-0.012},{"p":"Bantaeng","t":4.8,"v":-0.026,"v2":-0.016},{"p":"Bantaeng","t":5,"v":-0.02,"v2":-0.01},{"p":"Bantaeng","t":5.2,"v":-0.006,"v2":0.002},{"p":"Bantaeng","t":5.5,"v":0.003,"v2":0.011},{"p":"Bantaeng","t":5.8,"v":-0.004,"v2":0.004},{"p":"Bantaeng","t":6.1,"v":-0.01,"v2":-0.002},{"p":"Bantaeng","t":6.4,"v":-0.01,"v2":-0.002},{"p":"Bantaeng","t":6.8,"v":-0.001,"v2":0.007},{"p":"Bantaeng","t":7.2,"v":-0.004,"v2":0.004},{"p":"Bantaeng","t":7.6,"v":-0.006,"v2":0.002},{"p":"Bantaeng","t":8,"v":-0.007,"v2":0.001},{"p":"Bantaeng","t":10,"v":-0.007,"v2":0.001},
{"p":"Sinjai","t":4.3,"v":0.002,"v2":0.01},{"p":"Sinjai","t":4.4,"v":0.013,"v2":0.021},{"p":"Sinjai","t":4.5,"v":0.017,"v2":0.024},{"p":"Sinjai","t":4.7,"v":0.009,"v2":0.015},{"p":"Sinjai","t":4.9,"v":-0.008,"v2":-0.002},{"p":"Sinjai","t":5.1,"v":-0.018,"v2":-0.012},{"p":"Sinjai","t":5.25,"v":-0.021,"v2":-0.015},{"p":"Sinjai","t":5.45,"v":-0.013,"v2":-0.007},{"p":"Sinjai","t":5.7,"v":0.002,"v2":0.008},{"p":"Sinjai","t":5.95,"v":0.007,"v2":0.013},{"p":"Sinjai","t":6.2,"v":-0.003,"v2":0.003},{"p":"Sinjai","t":6.55,"v":-0.011,"v2":-0.005},{"p":"Sinjai","t":6.9,"v":-0.007,"v2":-0.001},{"p":"Sinjai","t":7.25,"v":-0.001,"v2":0.005},{"p":"Sinjai","t":7.6,"v":-0.003,"v2":0.003},{"p":"Sinjai","t":8,"v":-0.005,"v2":0.001},{"p":"Sinjai","t":8.5,"v":-0.004,"v2":0.002},{"p":"Sinjai","t":10,"v":-0.003,"v2":0.003},
{"p":"Sengkang","t":4.03,"v":-0.6,"v2":0.3},{"p":"Sengkang","t":4.06,"v":-0.2,"v2":0.3},{"p":"Sengkang","t":4.1,"v":-0.1,"v2":0.2},{"p":"Sengkang","t":4.2,"v":-0.1,"v2":0.12},{"p":"Sengkang","t":4.5,"v":-0.09,"v2":0.1},{"p":"Sengkang","t":5,"v":-0.12,"v2":0.075},{"p":"Sengkang","t":5.5,"v":-0.135,"v2":0.07},{"p":"Sengkang","t":6,"v":-0.12,"v2":0.085},{"p":"Sengkang","t":7,"v":-0.12,"v2":0.09},{"p":"Sengkang","t":8,"v":-0.12,"v2":0.085},{"p":"Sengkang","t":10,"v":-0.12,"v2":0.085},
{"p":"Palopo","t":4.1,"v":-0.1,"v2":0.1},{"p":"Palopo","t":4.15,"v":-0.07,"v2":0.06},{"p":"Palopo","t":4.2,"v":-0.05,"v2":0.04},{"p":"Palopo","t":4.3,"v":-0.03,"v2":0.02},{"p":"Palopo","t":4.5,"v":-0.014,"v2":0.014},{"p":"Palopo","t":4.7,"v":-0.005,"v2":0.015},{"p":"Palopo","t":5,"v":0,"v2":0.018},{"p":"Palopo","t":5.3,"v":-0.003,"v2":0.016},{"p":"Palopo","t":5.6,"v":-0.01,"v2":0.008},{"p":"Palopo","t":5.9,"v":-0.015,"v2":0.005},{"p":"Palopo","t":6.3,"v":-0.012,"v2":0.007},{"p":"Palopo","t":6.7,"v":-0.007,"v2":0.012},{"p":"Palopo","t":7,"v":-0.008,"v2":0.01},{"p":"Palopo","t":7.5,"v":-0.012,"v2":0.006},{"p":"Palopo","t":8,"v":-0.01,"v2":0.01},{"p":"Palopo","t":8.5,"v":-0.012,"v2":0.01},{"p":"Palopo","t":9,"v":-0.013,"v2":0.01},{"p":"Palopo","t":9.5,"v":-0.012,"v2":0.011},{"p":"Palopo","t":10,"v":-0.012,"v2":0.012},
{"p":"Makale","t":4.1,"v":-0.03,"v2":0.04},{"p":"Makale","t":4.2,"v":-0.01,"v2":0.03},{"p":"Makale","t":4.3,"v":0,"v2":0.02},{"p":"Makale","t":4.5,"v":0.005,"v2":0.017},{"p":"Makale","t":4.7,"v":0,"v2":0.01},{"p":"Makale","t":4.9,"v":-0.012,"v2":-0.004},{"p":"Makale","t":5.15,"v":-0.022,"v2":-0.012},{"p":"Makale","t":5.4,"v":-0.017,"v2":-0.007},{"p":"Makale","t":5.7,"v":-0.002,"v2":0.007},{"p":"Makale","t":5.95,"v":0.005,"v2":0.013},{"p":"Makale","t":6.2,"v":-0.001,"v2":0.007},{"p":"Makale","t":6.5,"v":-0.011,"v2":-0.004},{"p":"Makale","t":6.7,"v":-0.012,"v2":-0.005},{"p":"Makale","t":7,"v":-0.006,"v2":0},{"p":"Makale","t":7.4,"v":0,"v2":0.007},{"p":"Makale","t":7.8,"v":-0.003,"v2":0.004},{"p":"Makale","t":8.2,"v":-0.006,"v2":0},{"p":"Makale","t":8.6,"v":-0.003,"v2":0.004},{"p":"Makale","t":9,"v":-0.001,"v2":0.005},{"p":"Makale","t":9.4,"v":-0.002,"v2":0.004},{"p":"Makale","t":10,"v":-0.004,"v2":0.003}
]
},
"concat": [
{"title":"Field Voltage Response of Pinrang Generator","width":406,"height":266,
"encoding":{"x":{"field":"t","type":"quantitative","title":"Time (s)","scale":{"domain":[0,10],"nice":false},"axis":{"values":[0,1,2,3,4,5,6,7,8,9,10]}},"y":{"field":"v","type":"quantitative","title":"Amplitude (pu)","scale":{"domain":[-0.1,0.25],"nice":false,"zero":false},"axis":{"values":[-0.1,-0.05,0,0.05,0.1,0.15,0.2,0.25],"labelExpr":"''+datum.value"}}},
"layer":[
{"data":{"name":"L"},"transform":[{"filter":"datum.p=='Pinrang' && datum.s!='PSS3C'"}],"mark":{"type":"line","clip":true,"strokeWidth":1},"encoding":{"color":{"field":"s","type":"nominal","title":null,"scale":{"domain":["No PSS","PSS1A","PSS2B","PSS3C"],"range":["#e81ee8","#2a2aff","#ff4a4a","#000000"]}},"strokeDash":{"field":"s","type":"nominal","title":null,"scale":{"domain":["No PSS","PSS1A","PSS2B","PSS3C"],"range":[[1,0],[1,0],[1,0],[3,2]]}}}},
{"data":{"name":"B"},"transform":[{"filter":"datum.p=='Pinrang'"}],"mark":{"type":"area","clip":true,"color":"#000","opacity":0.92},"encoding":{"y2":{"field":"v2"}}},
{"data":{"name":"L"},"transform":[{"filter":"datum.p=='Pinrang' && datum.s=='PSS3C'"}],"mark":{"type":"line","clip":true,"color":"#000","strokeWidth":1.3,"strokeDash":[3,2]},"encoding":{}}
]},
{"title":"Field Voltage Response of Suppa Generator","width":406,"height":266,
"encoding":{"x":{"field":"t","type":"quantitative","title":"Time (s)","scale":{"domain":[0,10],"nice":false},"axis":{"values":[0,1,2,3,4,5,6,7,8,9,10]}},"y":{"field":"v","type":"quantitative","title":"Amplitude (pu)","scale":{"domain":[-0.1,0.15],"nice":false,"zero":false},"axis":{"values":[-0.1,-0.05,0,0.05,0.1,0.15],"labelExpr":"''+datum.value"}}},
"layer":[
{"data":{"name":"L"},"transform":[{"filter":"datum.p=='Suppa' && datum.s!='PSS3C'"}],"mark":{"type":"line","clip":true,"strokeWidth":1},"encoding":{"color":{"field":"s","type":"nominal","title":null,"scale":{"domain":["No PSS","PSS1A","PSS2B","PSS3C"],"range":["#e81ee8","#2a2aff","#ff4a4a","#000000"]}},"strokeDash":{"field":"s","type":"nominal","title":null,"scale":{"domain":["No PSS","PSS1A","PSS2B","PSS3C"],"range":[[1,0],[1,0],[1,0],[3,2]]}}}},
{"data":{"name":"B"},"transform":[{"filter":"datum.p=='Suppa'"}],"mark":{"type":"area","clip":true,"color":"#000","opacity":0.92},"encoding":{"y2":{"field":"v2"}}},
{"data":{"name":"L"},"transform":[{"filter":"datum.p=='Suppa' && datum.s=='PSS3C'"}],"mark":{"type":"line","clip":true,"color":"#000","strokeWidth":1.3,"strokeDash":[3,2]},"encoding":{}}
]},
{"title":"Field Voltage Response of Tello Generator","width":406,"height":266,
"encoding":{"x":{"field":"t","type":"quantitative","title":"Time (s)","scale":{"domain":[0,10],"nice":false},"axis":{"values":[0,1,2,3,4,5,6,7,8,9,10]}},"y":{"field":"v","type":"quantitative","title":"Amplitude (pu)","scale":{"domain":[-0.1,0.15],"nice":false,"zero":false},"axis":{"values":[-0.1,-0.05,0,0.05,0.1,0.15],"labelExpr":"''+datum.value"}}},
"layer":[
{"data":{"name":"L"},"transform":[{"filter":"datum.p=='Tello' && datum.s!='PSS3C'"}],"mark":{"type":"line","clip":true,"strokeWidth":1},"encoding":{"color":{"field":"s","type":"nominal","title":null,"scale":{"domain":["No PSS","PSS1A","PSS2B","PSS3C"],"range":["#e81ee8","#2a2aff","#ff4a4a","#000000"]}},"strokeDash":{"field":"s","type":"nominal","title":null,"scale":{"domain":["No PSS","PSS1A","PSS2B","PSS3C"],"range":[[1,0],[1,0],[1,0],[3,2]]}}}},
{"data":{"name":"B"},"transform":[{"filter":"datum.p=='Tello'"}],"mark":{"type":"area","clip":true,"color":"#000","opacity":0.92},"encoding":{"y2":{"field":"v2"}}},
{"data":{"name":"L"},"transform":[{"filter":"datum.p=='Tello' && datum.s=='PSS3C'"}],"mark":{"type":"line","clip":true,"color":"#000","strokeWidth":1.3,"strokeDash":[3,2]},"encoding":{}}
]},
{"title":"Field Voltage Response of Borongloe Generator","width":406,"height":266,
"encoding":{"x":{"field":"t","type":"quantitative","title":"Time (s)","scale":{"domain":[0,10],"nice":false},"axis":{"values":[0,1,2,3,4,5,6,7,8,9,10]}},"y":{"field":"v","type":"quantitative","title":"Amplitude (pu)","scale":{"domain":[-0.2,0.15],"nice":false,"zero":false},"axis":{"values":[-0.2,-0.15,-0.1,-0.05,0,0.05,0.1,0.15],"labelExpr":"''+datum.value"}}},
"layer":[
{"data":{"name":"L"},"transform":[{"filter":"datum.p=='Borongloe' && datum.s!='PSS3C'"}],"mark":{"type":"line","clip":true,"strokeWidth":1},"encoding":{"color":{"field":"s","type":"nominal","title":null,"scale":{"domain":["No PSS","PSS1A","PSS2B","PSS3C"],"range":["#e81ee8","#2a2aff","#ff4a4a","#000000"]}},"strokeDash":{"field":"s","type":"nominal","title":null,"scale":{"domain":["No PSS","PSS1A","PSS2B","PSS3C"],"range":[[1,0],[1,0],[1,0],[3,2]]}}}},
{"data":{"name":"B"},"transform":[{"filter":"datum.p=='Borongloe'"}],"mark":{"type":"area","clip":true,"color":"#000","opacity":0.92},"encoding":{"y2":{"field":"v2"}}},
{"data":{"name":"L"},"transform":[{"filter":"datum.p=='Borongloe' && datum.s=='PSS3C'"}],"mark":{"type":"line","clip":true,"color":"#000","strokeWidth":1.3,"strokeDash":[3,2]},"encoding":{}}
]},
{"title":"Field Voltage Response of Jeneponto Generator","width":406,"height":266,
"encoding":{"x":{"field":"t","type":"quantitative","title":"Time (s)","scale":{"domain":[0,10],"nice":false},"axis":{"values":[0,1,2,3,4,5,6,7,8,9,10]}},"y":{"field":"v","type":"quantitative","title":"Amplitude (pu)","scale":{"domain":[-1,0.4],"nice":false,"zero":false},"axis":{"values":[-1,-0.8,-0.6,-0.4,-0.2,0,0.2,0.4],"labelExpr":"''+datum.value"}}},
"layer":[
{"data":{"name":"L"},"transform":[{"filter":"datum.p=='Jeneponto' && datum.s!='PSS3C'"}],"mark":{"type":"line","clip":true,"strokeWidth":1},"encoding":{"color":{"field":"s","type":"nominal","title":null,"scale":{"domain":["No PSS","PSS1A","PSS2B","PSS3C"],"range":["#e81ee8","#2a2aff","#ff4a4a","#000000"]}},"strokeDash":{"field":"s","type":"nominal","title":null,"scale":{"domain":["No PSS","PSS1A","PSS2B","PSS3C"],"range":[[1,0],[1,0],[1,0],[3,2]]}}}},
{"data":{"name":"B"},"transform":[{"filter":"datum.p=='Jeneponto'"}],"mark":{"type":"area","clip":true,"color":"#000","opacity":0.85},"encoding":{"y2":{"field":"v2"}}},
{"data":{"name":"L"},"transform":[{"filter":"datum.p=='Jeneponto' && datum.s=='PSS3C'"}],"mark":{"type":"line","clip":true,"color":"#000","strokeWidth":1.3,"strokeDash":[3,2]},"encoding":{}}
]},
{"title":"Field Voltage Response of Punagaya Generator","width":406,"height":266,
"encoding":{"x":{"field":"t","type":"quantitative","title":"Time (s)","scale":{"domain":[0,10],"nice":false},"axis":{"values":[0,1,2,3,4,5,6,7,8,9,10]}},"y":{"field":"v","type":"quantitative","title":"Amplitude (pu)","scale":{"domain":[-2.5,0.5],"nice":false,"zero":false},"axis":{"values":[-2.5,-2,-1.5,-1,-0.5,0,0.5],"labelExpr":"''+datum.value"}}},
"layer":[
{"data":{"name":"L"},"transform":[{"filter":"datum.p=='Punagaya' && datum.s!='PSS3C'"}],"mark":{"type":"line","clip":true,"strokeWidth":1},"encoding":{"color":{"field":"s","type":"nominal","title":null,"scale":{"domain":["No PSS","PSS1A","PSS2B","PSS3C"],"range":["#e81ee8","#2a2aff","#ff4a4a","#000000"]}},"strokeDash":{"field":"s","type":"nominal","title":null,"scale":{"domain":["No PSS","PSS1A","PSS2B","PSS3C"],"range":[[1,0],[1,0],[1,0],[3,2]]}}}},
{"data":{"name":"L"},"transform":[{"filter":"datum.p=='Punagaya' && datum.s=='PSS3C'"}],"mark":{"type":"line","clip":true,"color":"#000","strokeWidth":1.6,"strokeDash":[3,2]},"encoding":{}}
]},
{"title":"Field Voltage Response of Bosowa Generator","width":406,"height":266,
"encoding":{"x":{"field":"t","type":"quantitative","title":"Time (s)","scale":{"domain":[0,10],"nice":false},"axis":{"values":[0,1,2,3,4,5,6,7,8,9,10]}},"y":{"field":"v","type":"quantitative","title":"Amplitude (pu)","scale":{"domain":[-0.3,0.2],"nice":false,"zero":false},"axis":{"values":[-0.3,-0.25,-0.2,-0.15,-0.1,-0.05,0,0.05,0.1,0.15,0.2],"labelExpr":"''+datum.value"}}},
"layer":[
{"data":{"name":"L"},"transform":[{"filter":"datum.p=='Bosowa' && datum.s!='PSS3C'"}],"mark":{"type":"line","clip":true,"strokeWidth":1},"encoding":{"color":{"field":"s","type":"nominal","title":null,"scale":{"domain":["No PSS","PSS1A","PSS2B","PSS3C"],"range":["#e81ee8","#2a2aff","#ff4a4a","#000000"]}},"strokeDash":{"field":"s","type":"nominal","title":null,"scale":{"domain":["No PSS","PSS1A","PSS2B","PSS3C"],"range":[[1,0],[1,0],[1,0],[3,2]]}}}},
{"data":{"name":"B"},"transform":[{"filter":"datum.p=='Bosowa'"}],"mark":{"type":"area","clip":true,"color":"#000","opacity":0.92},"encoding":{"y2":{"field":"v2"}}},
{"data":{"name":"L"},"transform":[{"filter":"datum.p=='Bosowa' && datum.s=='PSS3C'"}],"mark":{"type":"line","clip":true,"color":"#000","strokeWidth":1.3,"strokeDash":[3,2]},"encoding":{}}
]},
{"title":"Field Voltage Response of Bantaeng Generator","width":406,"height":266,
"encoding":{"x":{"field":"t","type":"quantitative","title":"Time (s)","scale":{"domain":[0,10],"nice":false},"axis":{"values":[0,1,2,3,4,5,6,7,8,9,10]}},"y":{"field":"v","type":"quantitative","title":"Amplitude (pu)","scale":{"domain":[-0.4,0.4],"nice":false,"zero":false},"axis":{"values":[-0.4,-0.3,-0.2,-0.1,0,0.1,0.2,0.3,0.4],"labelExpr":"''+datum.value"}}},
"layer":[
{"data":{"name":"L"},"transform":[{"filter":"datum.p=='Bantaeng' && datum.s!='PSS3C'"}],"mark":{"type":"line","clip":true,"strokeWidth":1},"encoding":{"color":{"field":"s","type":"nominal","title":null,"scale":{"domain":["No PSS","PSS1A","PSS2B","PSS3C"],"range":["#e81ee8","#2a2aff","#ff4a4a","#000000"]}},"strokeDash":{"field":"s","type":"nominal","title":null,"scale":{"domain":["No PSS","PSS1A","PSS2B","PSS3C"],"range":[[1,0],[1,0],[1,0],[3,2]]}}}},
{"data":{"name":"B"},"transform":[{"filter":"datum.p=='Bantaeng'"}],"mark":{"type":"area","clip":true,"color":"#000","opacity":0.92},"encoding":{"y2":{"field":"v2"}}},
{"data":{"name":"L"},"transform":[{"filter":"datum.p=='Bantaeng' && datum.s=='PSS3C'"}],"mark":{"type":"line","clip":true,"color":"#000","strokeWidth":1.3,"strokeDash":[3,2]},"encoding":{}}
]},
{"title":"Field Voltage Response of Sinjai Generator","width":406,"height":266,
"encoding":{"x":{"field":"t","type":"quantitative","title":"Time (s)","scale":{"domain":[0,10],"nice":false},"axis":{"values":[0,1,2,3,4,5,6,7,8,9,10]}},"y":{"field":"v","type":"quantitative","title":"Amplitude (pu)","scale":{"domain":[-0.2,0.15],"nice":false,"zero":false},"axis":{"values":[-0.2,-0.15,-0.1,-0.05,0,0.05,0.1,0.15],"labelExpr":"''+datum.value"}}},
"layer":[
{"data":{"name":"L"},"transform":[{"filter":"datum.p=='Sinjai' && datum.s!='PSS3C'"}],"mark":{"type":"line","clip":true,"strokeWidth":1},"encoding":{"color":{"field":"s","type":"nominal","title":null,"scale":{"domain":["No PSS","PSS1A","PSS2B","PSS3C"],"range":["#e81ee8","#2a2aff","#ff4a4a","#000000"]}},"strokeDash":{"field":"s","type":"nominal","title":null,"scale":{"domain":["No PSS","PSS1A","PSS2B","PSS3C"],"range":[[1,0],[1,0],[1,0],[3,2]]}}}},
{"data":{"name":"B"},"transform":[{"filter":"datum.p=='Sinjai'"}],"mark":{"type":"area","clip":true,"color":"#000","opacity":0.92},"encoding":{"y2":{"field":"v2"}}},
{"data":{"name":"L"},"transform":[{"filter":"datum.p=='Sinjai' && datum.s=='PSS3C'"}],"mark":{"type":"line","clip":true,"color":"#000","strokeWidth":1.3,"strokeDash":[3,2]},"encoding":{}}
]},
{"title":"Field Voltage Response of Sengkang Generator","width":406,"height":266,
"encoding":{"x":{"field":"t","type":"quantitative","title":"Time (s)","scale":{"domain":[0,10],"nice":false},"axis":{"values":[0,1,2,3,4,5,6,7,8,9,10]}},"y":{"field":"v","type":"quantitative","title":"Amplitude (pu)","scale":{"domain":[-1,1],"nice":false,"zero":false},"axis":{"values":[-1,-0.8,-0.6,-0.4,-0.2,0,0.2,0.4,0.6,0.8,1],"labelExpr":"''+datum.value"}}},
"layer":[
{"data":{"name":"L"},"transform":[{"filter":"datum.p=='Sengkang' && datum.s!='PSS3C'"}],"mark":{"type":"line","clip":true,"strokeWidth":1},"encoding":{"color":{"field":"s","type":"nominal","title":null,"scale":{"domain":["No PSS","PSS1A","PSS2B","PSS3C"],"range":["#e81ee8","#2a2aff","#ff4a4a","#000000"]}},"strokeDash":{"field":"s","type":"nominal","title":null,"scale":{"domain":["No PSS","PSS1A","PSS2B","PSS3C"],"range":[[1,0],[1,0],[1,0],[3,2]]}}}},
{"data":{"name":"B"},"transform":[{"filter":"datum.p=='Sengkang'"}],"mark":{"type":"area","clip":true,"color":"#000","opacity":0.9},"encoding":{"y2":{"field":"v2"}}},
{"data":{"name":"L"},"transform":[{"filter":"datum.p=='Sengkang' && datum.s=='PSS3C'"}],"mark":{"type":"line","clip":true,"color":"#000","strokeWidth":1.3,"strokeDash":[3,2]},"encoding":{}}
]},
{"title":"Field Voltage Response of Palopo Generator","width":406,"height":266,
"encoding":{"x":{"field":"t","type":"quantitative","title":"Time (s)","scale":{"domain":[0,10],"nice":false},"axis":{"values":[0,1,2,3,4,5,6,7,8,9,10]}},"y":{"field":"v","type":"quantitative","title":"Amplitude (pu)","scale":{"domain":[-0.4,0.3],"nice":false,"zero":false},"axis":{"values":[-0.4,-0.3,-0.2,-0.1,0,0.1,0.2,0.3],"labelExpr":"''+datum.value"}}},
"layer":[
{"data":{"name":"L"},"transform":[{"filter":"datum.p=='Palopo' && datum.s!='PSS3C'"}],"mark":{"type":"line","clip":true,"strokeWidth":1},"encoding":{"color":{"field":"s","type":"nominal","title":null,"scale":{"domain":["No PSS","PSS1A","PSS2B","PSS3C"],"range":["#e81ee8","#2a2aff","#ff4a4a","#000000"]}},"strokeDash":{"field":"s","type":"nominal","title":null,"scale":{"domain":["No PSS","PSS1A","PSS2B","PSS3C"],"range":[[1,0],[1,0],[1,0],[3,2]]}}}},
{"data":{"name":"B"},"transform":[{"filter":"datum.p=='Palopo'"}],"mark":{"type":"area","clip":true,"color":"#000","opacity":0.9},"encoding":{"y2":{"field":"v2"}}},
{"data":{"name":"L"},"transform":[{"filter":"datum.p=='Palopo' && datum.s=='PSS3C'"}],"mark":{"type":"line","clip":true,"color":"#000","strokeWidth":1.3,"strokeDash":[3,2]},"encoding":{}}
]},
{"title":"Field Voltage Response of Makale Generator","width":406,"height":266,
"encoding":{"x":{"field":"t","type":"quantitative","title":"Time (s)","scale":{"domain":[0,10],"nice":false},"axis":{"values":[0,1,2,3,4,5,6,7,8,9,10]}},"y":{"field":"v","type":"quantitative","title":"Amplitude (pu)","scale":{"domain":[-0.2,0.15],"nice":false,"zero":false},"axis":{"values":[-0.2,-0.15,-0.1,-0.05,0,0.05,0.1,0.15],"labelExpr":"''+datum.value"}}},
"layer":[
{"data":{"name":"L"},"transform":[{"filter":"datum.p=='Makale' && datum.s!='PSS3C'"}],"mark":{"type":"line","clip":true,"strokeWidth":1},"encoding":{"color":{"field":"s","type":"nominal","title":null,"scale":{"domain":["No PSS","PSS1A","PSS2B","PSS3C"],"range":["#e81ee8","#2a2aff","#ff4a4a","#000000"]}},"strokeDash":{"field":"s","type":"nominal","title":null,"scale":{"domain":["No PSS","PSS1A","PSS2B","PSS3C"],"range":[[1,0],[1,0],[1,0],[3,2]]}}}},
{"data":{"name":"B"},"transform":[{"filter":"datum.p=='Makale'"}],"mark":{"type":"area","clip":true,"color":"#000","opacity":0.92},"encoding":{"y2":{"field":"v2"}}},
{"data":{"name":"L"},"transform":[{"filter":"datum.p=='Makale' && datum.s=='PSS3C'"}],"mark":{"type":"line","clip":true,"color":"#000","strokeWidth":1.3,"strokeDash":[3,2]},"encoding":{}}
]},
{"width":406,"height":266,"view":{"stroke":null},"data":{"values":[{"a":1}]},"mark":{"type":"point","opacity":0}},
{"title":"Field Voltage Response of Makale Generator","width":406,"height":266,
"encoding":{"x":{"field":"t","type":"quantitative","title":"Time (s)","scale":{"domain":[0,10],"nice":false},"axis":{"values":[0,1,2,3,4,5,6,7,8,9,10]}},"y":{"field":"v","type":"quantitative","title":"Amplitude (pu)","scale":{"domain":[-0.2,0.15],"nice":false,"zero":false},"axis":{"values":[-0.2,-0.15,-0.1,-0.05,0,0.05,0.1,0.15],"labelExpr":"''+datum.value"}}},
"layer":[
{"data":{"name":"L"},"transform":[{"filter":"datum.p=='Makale' && datum.s!='PSS3C'"}],"mark":{"type":"line","clip":true,"strokeWidth":1},"encoding":{"color":{"field":"s","type":"nominal","title":null,"scale":{"domain":["No PSS","PSS1A","PSS2B","PSS3C"],"range":["#e81ee8","#2a2aff","#ff4a4a","#000000"]}},"strokeDash":{"field":"s","type":"nominal","title":null,"scale":{"domain":["No PSS","PSS1A","PSS2B","PSS3C"],"range":[[1,0],[1,0],[1,0],[3,2]]}}}},
{"data":{"name":"B"},"transform":[{"filter":"datum.p=='Makale'"}],"mark":{"type":"area","clip":true,"color":"#000","opacity":0.92},"encoding":{"y2":{"field":"v2"}}},
{"data":{"name":"L"},"transform":[{"filter":"datum.p=='Makale' && datum.s=='PSS3C'"}],"mark":{"type":"line","clip":true,"color":"#000","strokeWidth":1.3,"strokeDash":[3,2]},"encoding":{}}
]}
],
"config": {
"font": "Liberation Sans, DejaVu Sans Condensed, sans-serif",
"view": {"stroke": "#777", "strokeWidth": 1},
"axis": {"labelFont": "Liberation Sans, DejaVu Sans Condensed, sans-serif", "labelFontSize": 9, "labelFontWeight": "bold", "labelColor": "#111", "titleFont": "Liberation Sans, DejaVu Sans Condensed, sans-serif", "titleFontWeight": "bold", "titleColor": "#111", "grid": true, "gridColor": "#cdcdcd", "gridDash": [1, 2], "gridWidth": 1, "domain": false, "ticks": false, "labelPadding": 2},
"axisX": {"labelFlush": false, "titlePadding": 3, "titleFontSize": 9},
"axisY": {"titlePadding": 3, "titleFontSize": 10.5},
"legend": {"orient": "top-right", "offset": 2, "padding": 3, "strokeColor": "#444", "fillColor": "white", "labelFont": "Liberation Sans, DejaVu Sans Condensed, sans-serif", "labelFontSize": 9, "labelFontWeight": "bold", "labelColor": "#000", "symbolType": "stroke", "symbolSize": 100, "symbolStrokeWidth": 1.5, "rowPadding": 2.5, "labelOffset": 2},
"title": {"font": "Liberation Sans, DejaVu Sans Condensed, sans-serif", "fontSize": 8.7, "fontWeight": "bold", "color": "#111", "offset": 7, "anchor": "middle"}
}
}
